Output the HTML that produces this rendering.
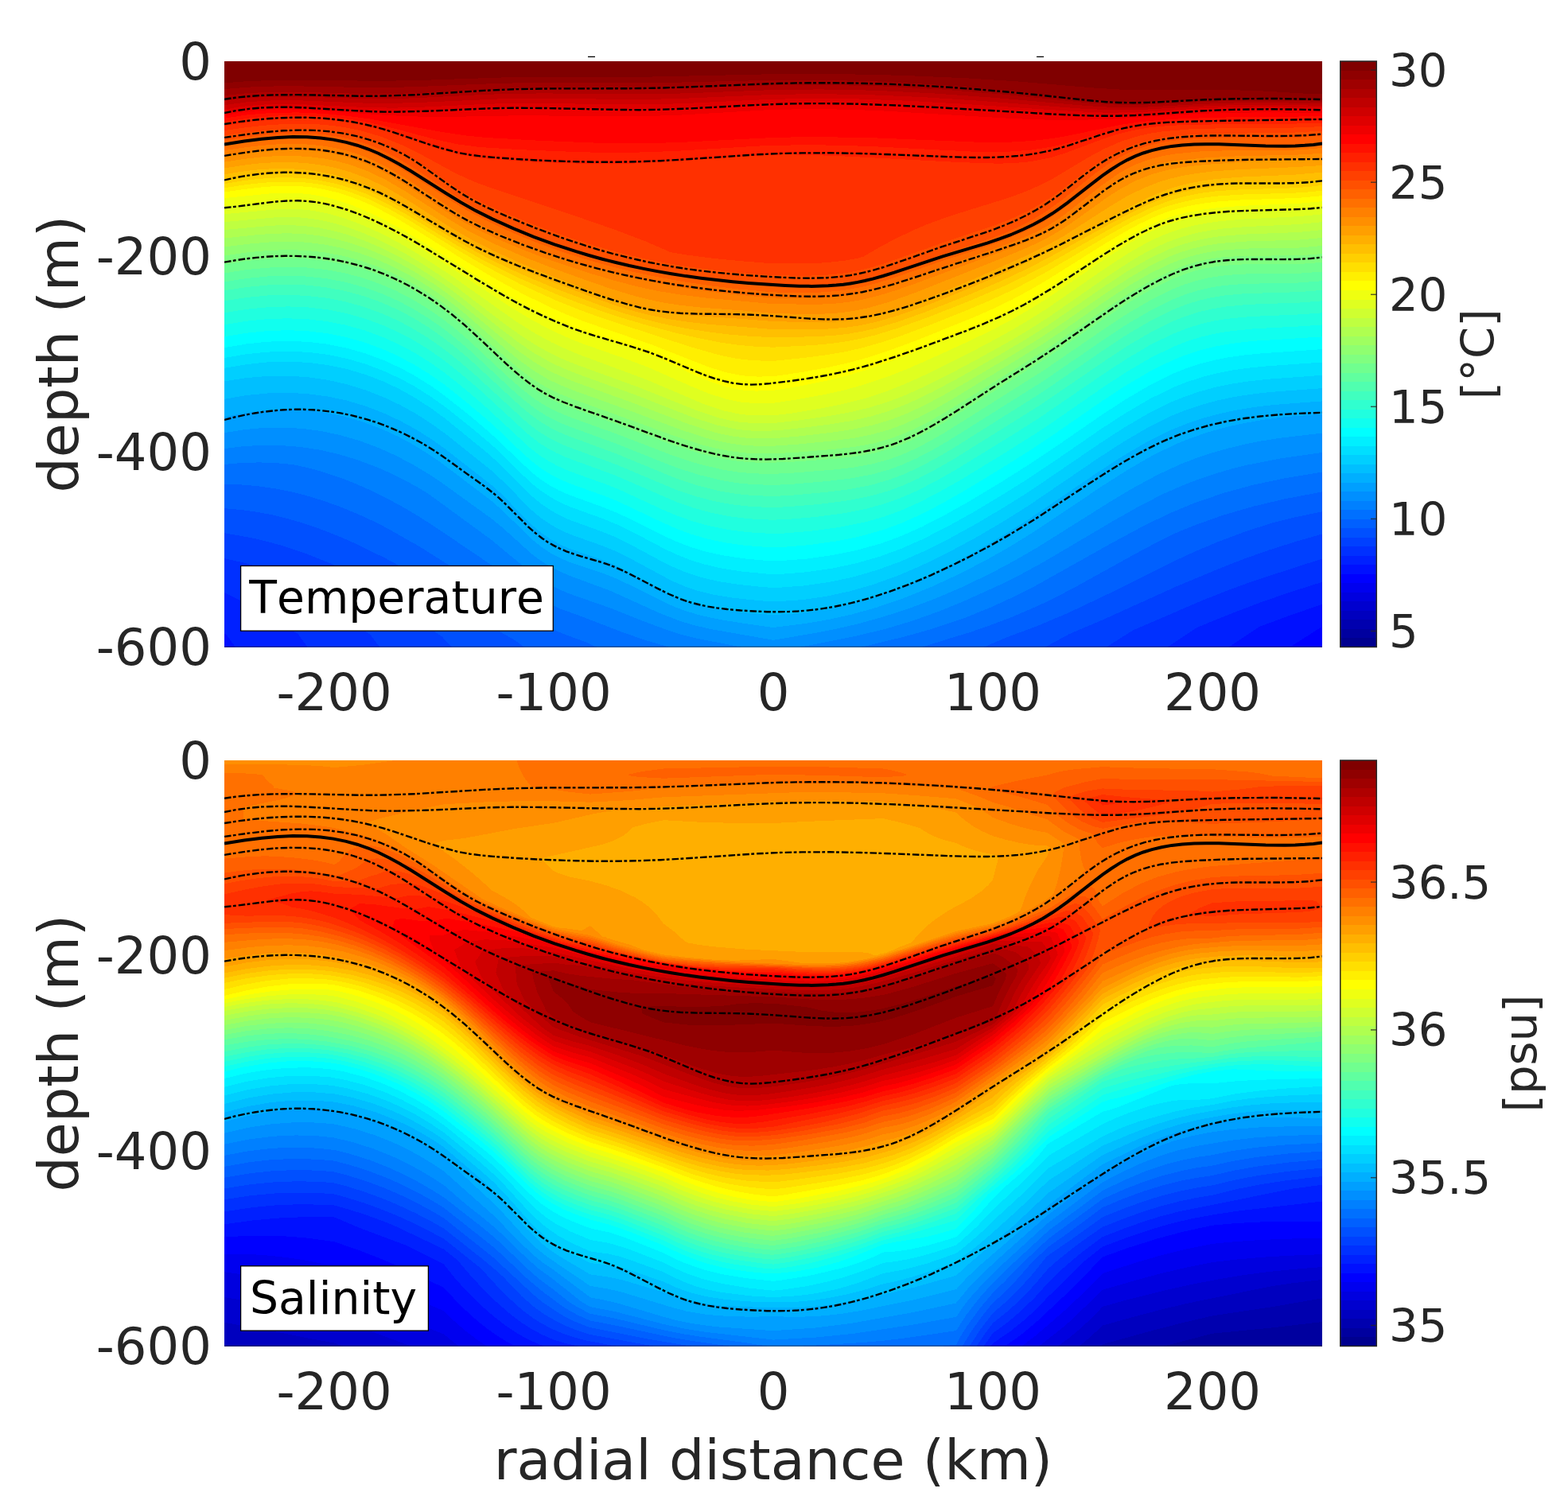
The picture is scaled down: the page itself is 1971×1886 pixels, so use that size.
<!DOCTYPE html><html><head><meta charset="utf-8"><title>Temperature and Salinity sections</title><style>html,body{margin:0;padding:0;background:#fff;overflow:hidden}svg{display:block}</style></head><body><svg xmlns="http://www.w3.org/2000/svg" xmlns:xlink="http://www.w3.org/1999/xlink" width="1971" height="1886" viewBox="0 0 1971 1886">
<style>.cd{fill:none;stroke:#000;stroke-width:2.4;stroke-dasharray:8.6 2.4 3.8 3}.cs{fill:none;stroke:#000;stroke-width:4}text{font-family:"DejaVu Sans","Liberation Sans",sans-serif;fill:#262626;font-kerning:none}.tk{font-size:64px}.lb{font-size:70px}.cb{font-size:57.6px}.bx{font-size:56.8px;fill:#000}</style>
<rect width="1971" height="1886" fill="#fff"/>
<g shape-rendering="crispEdges">
<rect x="282" y="77" width="1380" height="736.5" fill="#00008f"/>
<rect x="282" y="77" width="1380" height="736.5" fill="#00009f"/>
<rect x="282" y="77" width="1380" height="736.5" fill="#0000af"/>
<rect x="282" y="77" width="1380" height="736.5" fill="#0000bf"/>
<rect x="282" y="77" width="1380" height="736.5" fill="#0000cf"/>
<rect x="282" y="77" width="1380" height="736.5" fill="#0000df"/>
<rect x="282" y="77" width="1380" height="736.5" fill="#0000ef"/>
<rect x="282" y="77" width="1380" height="736.5" fill="#0000ff"/>
<path fill="#0010ff" d="M1662 77 1662 787.7 1621.7 813.5 282 813.5 282 77Z"/>
<path fill="#0020ff" d="M1662 77 1662 759.8 1622 773.5 1583.1 788 1544.8 813.5 295.7 813.5 285 798.5 282 796.5 282 77Z"/>
<path fill="#0030ff" d="M1662 77 1662 731.8 1622 744.4 1584 757.6 1546 772.1 1504 789.2 1467.9 813.5 386.5 813.5 374.5 797 350 781.8 326 767.8 304 755.9 282 745.1 282 77Z"/>
<path fill="#0040ff" d="M1662 77 1662 702.5 1576 730.4 1544 742 1511.2 755 1424.1 792.5 1391 813.5 477.3 813.5 465.8 798.5 463.9 797 406 758.8 362 732.1 326.2 713 304.1 707 282 702.1 282 77Z"/>
<path fill="#0050ff" d="M1662 77 1662 671.4 1628 681.2 1596 691.3 1564 702.6 1533.6 714.5 1478 737.7 1386.9 779 1344.4 797 1314.1 813.5 568 813.5 555.1 800 527.8 782 458 733.8 426.6 713 388 697.3 352 685.3 334 680.4 316 676.2 282 670.2 282 77Z"/>
<path fill="#0060ff" d="M1662 77 1662 643.2 1626 650.8 1598.9 657.5 1564 668.9 1530 681.7 1504 692.6 1476 705.4 1404.1 741.5 1344.1 770 1304 787.1 1264.8 801.5 1237.3 813.5 658.8 813.5 646.5 804.5 618 788.4 586.6 768.5 566 754 526.8 725 486 702.7 450 684.9 428 675.2 406 666.4 384 658.7 362 652.2 344 647.7 322 643.6 302 640.9 282 639.2 282 77Z"/>
<path fill="#0070ff" d="M1662 77 1662 618.4 1614.1 627.5 1574 637.1 1536 648.2 1500 661.1 1475.9 671 1458 679.9 1430 694.8 1348.2 740 1320 754.6 1302 763 1272 775.8 1242 787.2 1218 795.4 1187.6 804.5 1160.4 813.5 749.6 813.5 736.9 807.5 714 799.2 698 792.7 674 781 654 768.5 627 749 584 723 528 687.6 486 663.8 470 655.6 450 646.4 428 637.4 408 630.2 386 623.4 366 618.3 344 614 324 611.2 304 609.5 282 608.8 282 77Z"/>
<path fill="#0080ff" d="M1662 77 1662 593.5 1616 601.1 1576 609.5 1538 619.9 1502 632.2 1470 645.5 1438 661 1398 682.5 1302 736.3 1274 750.5 1244.6 764 1211.2 777.5 1172 790.6 1138 800.2 1083.5 813.5 840.4 813.5 808 803.9 782 794.7 729.4 774.5 704.5 765.5 692 760.1 679.1 753.5 660 741.5 614 707.9 550 664.6 530 651.6 508 638.4 488 627.4 468 617.4 448 608.5 428 600.7 408 594 388 588.4 367.7 584 346 582.1 326 581.4 304 582 282 583.9 282 77Z"/>
<path fill="#008fff" d="M1662 77 1662 569 1610 576.3 1568 584.6 1548 589.6 1528 595.4 1508 602.1 1490 608.9 1461.2 621.5 1432 636.5 1400 654.6 1311.2 707 1283.6 722 1256.7 735.5 1210.2 756.5 1180.8 768.5 1147.2 780.5 1112.2 791 1072 800.6 1006.6 813.5 931.2 813.5 874 802.3 856 797.7 838 791.9 812 782.3 766 764.1 716 746.6 702 740.7 688 733.6 678 727.5 668 720.5 618 679 538 620.5 524 612.1 506 602.3 488 593.6 472 586.7 448.6 578 426 571.2 402 565.7 378 562 354 560.1 330 559.8 306 561.1 282 564.1 282 77Z"/>
<path fill="#009fff" d="M1662 77 1662 544.5 1608 550.9 1586 554.4 1564 558.8 1542 564.1 1522 569.8 1502 576.6 1484 583.6 1456 596.5 1424 613.8 1392 633 1304 688.3 1276 704.5 1248 719.5 1212 737 1177.2 752 1142 765.3 1108 776.2 1078 784.5 1050 791 1022 796.4 972 804.8 894 791.1 872 786 854 780.6 827 770 768 743.1 714 723.1 700 716.7 690 711.4 678.3 704 668 696.2 632 663.7 618 652.2 554 606 536 594.2 516 582.4 496 572.1 476 563.1 452 554.2 428 547.2 404 542.1 380 538.9 356 537.5 332 537.9 308 540.1 282 544.2 282 77Z"/>
<path fill="#00afff" d="M1662 77 1662 520.7 1616 524.1 1586 528.1 1560 532.8 1538 537.9 1518 543.6 1498 550.4 1478 558.5 1450 572 1418 590.4 1386 610.8 1298 669.7 1269.1 687.5 1240 704 1205.2 722 1169.4 738.5 1136 752 1102 763.7 1072 772.2 1042 778.9 1012 784 972 789 934 783.7 904 778.8 882 774.1 864 768.9 850 763.8 836 757.7 790 734.7 772 726.3 758 720.9 716 706.8 704 701.6 692 695.3 680 687.3 669.1 678.5 632 642.3 618 629.9 556 582.9 538 570.5 518 558.3 500 548.7 480 539.5 456 530.5 432 523.5 408 518.7 384 515.8 360 514.9 334 516.1 306 519.6 282 524.2 282 77Z"/>
<path fill="#00bfff" d="M1662 77 1662 504.4 1600 509.1 1576 512 1554 515.6 1532 520.4 1512 525.9 1492 532.6 1472 540.6 1442 555.5 1410 574.2 1378 595.1 1292 653.6 1262 672.5 1232 690.1 1197.7 708.5 1162 725.8 1132 738.6 1098 751 1066 760.3 1036 766.7 1006 770.9 972 773.2 940 770.6 910 767 888 763.1 870 758.4 856.2 753.5 842 747.1 792 719.9 774 710.9 758 704.3 716 689.9 704 684.5 692 677.9 680 669.6 670 661.2 660 651.5 632 622.7 618 609.9 560 564.8 542 552 524 540.6 504 529.6 484 520.1 460 510.8 436 503.6 412 498.5 386 495.1 362 493.8 336 494.5 310 497 282 501.8 282 77Z"/>
<path fill="#00cfff" d="M1662 77 1662 488.1 1596 493 1572 495.8 1550 499.3 1530 503.6 1510 509 1490 515.8 1472 523.1 1444 536.9 1412 555.6 1380 576.4 1292 636.3 1260 656.4 1228 675.2 1192 694.6 1158 711.2 1128 724 1098 734.8 1068 743.4 1038 750 1008 754.2 978 756.2 972 756.4 954 755.2 922 751.8 898 747.9 876 742.5 860 737 844 730 790 701 772 692.2 758 686.5 716 671.6 704 666.2 692 659.5 680 651.3 668 641.2 632 604.8 616 590.1 560 545.5 542 532.5 524 520.9 504 509.7 484 500.1 460 490.6 436 483.2 412 477.8 388 474.3 362 472.6 336 472.9 310 475.1 282 479.4 282 77Z"/>
<path fill="#00dfff" d="M1662 77 1662 471.8 1592 476.9 1568 479.6 1548 482.7 1528 486.8 1508 492.3 1490 498.4 1472 505.7 1444 519.5 1412 538.3 1382 557.8 1294 617.8 1261.9 638 1226 659.2 1192 677.9 1160 693.8 1130 706.8 1102 716.9 1072 725.6 1042 732 1010 736.5 980 738.7 972 738.9 960 738.2 928 734.9 902 730.8 880 725.6 862 719.6 846 712.8 828 703.8 790 683.4 772 674.7 758 668.9 716 653.7 704 648.2 692 641.5 680 633.3 668 623.3 630 585.3 614 570.6 560 526.6 542 513.4 522 500.4 502.7 489.5 484.2 480.5 460 471.2 436 464 412 459 388 455.9 362 454.7 336 455.4 310 458.1 282 462.9 282 77Z"/>
<path fill="#00efff" d="M1662 77 1662 455.5 1588 460.7 1566 463.1 1548 465.7 1528 469.7 1510 474.4 1492 480.3 1474 487.5 1446 501.2 1414 519.9 1384 539.4 1322 582.1 1294 600.8 1260 622.2 1222 644.9 1188 663.7 1158.6 678.5 1132 690.2 1106 699.7 1076 708.3 1046 714.7 1014 719.3 982 721.8 972 722.1 964 721.6 932 718.5 906 714.4 884 709.2 868 704.2 852 697.9 836 690.4 793.3 668 776 659.6 758 652.2 716 637 704 631.6 692 625.1 680 617.1 670 609.2 658 598.1 628 568.4 616 557.5 596 540.7 560 511.9 542 499 522 486.3 504 476.5 484 467.1 460 457.9 436 450.9 412 445.9 388 442.9 362 441.7 336 442.6 310 445.2 282 450.1 282 77Z"/>
<path fill="#00ffff" d="M1662 77 1662 439.1 1584 444.5 1564 446.5 1546 449 1526 452.9 1508 457.6 1492 462.9 1474 470.1 1446 483.9 1414 502.7 1384 522.4 1324 563.8 1296 582.5 1258 606.5 1216 631.7 1186 648.5 1158 662.8 1132 674.3 1108 683.1 1078 691.6 1048 697.8 1014 702.6 982 705 972 705.4 964 705 934 702.2 908 698.2 886 693.3 868 687.8 850 680.9 832 672.6 794 653.5 776 645 758 637.7 716 622.5 702 616.3 690 609.7 678 601.6 668 593.6 616 544.2 594 525.5 560 498.3 542 485.4 522 472.8 504 463 484 453.7 460 444.6 436 437.7 412 432.8 388 429.9 362 428.8 336 429.7 310 432.4 282 437.2 282 77Z"/>
<path fill="#10ffef" d="M1662 77 1662 423.4 1580 428.5 1562 430.2 1544 432.6 1526 435.9 1508 440.5 1492 445.7 1474 452.8 1446 466.6 1416 484.2 1386 503.8 1326 545.3 1296 565.3 1258 589.3 1210 618.4 1182 634.2 1156 647.5 1132 658.2 1110 666.2 1082 674.2 1052 680.3 1018 685.1 984 687.9 966 688.1 936 685.8 910 682 888 677.3 868 671.4 850 664.6 832 656.6 776 630 760 623.6 716 607.9 702 601.7 690 595.2 678 587.4 668 579.5 656 568.8 628 541.8 612 527.3 584 503.7 558 483.1 538 469.1 518 456.9 498 446.5 482 439.3 458 430.4 434 423.7 410 419 386 416.2 362 415.2 336 416.1 310 418.7 282 423.4 282 77Z"/>
<path fill="#20ffdf" d="M1662 77 1662 408.4 1638 410.2 1576 413.3 1542 416.9 1524 420.2 1508 424.1 1492 429.2 1474 436.4 1446 450.1 1416 467.7 1388 486 1328 527.5 1300 546.2 1260 571.4 1206 604.3 1178 620.1 1154 632.4 1132 642.1 1112 649.4 1086 656.8 1056 662.8 1020 667.7 986 670.5 970 671 940 669.2 916 666.2 892 661.4 870 655.2 850 648 832 640.3 778 615.4 760 608.3 716 592.5 702 586.4 690 580 678 572.3 666 563 608 509.2 580 485.4 558 468 540 455.3 520 442.9 502 433.3 482 424.2 458 415.3 434 408.6 410 404 386 401.2 362 400.3 336 401.1 310 403.7 282 408.4 282 77Z"/>
<path fill="#30ffcf" d="M1662 77 1662 393.3 1636 395.3 1572 398 1542 400.9 1524 403.9 1508 407.8 1492 412.8 1474 419.9 1446 433.6 1416 451.3 1388 469.6 1304 527 1268 549.8 1202 590.3 1176 605.1 1154 616.4 1134 625.3 1114 632.7 1088 640 1060 645.4 1024 650.1 988 653.1 970 653.7 942 652.3 918 649.4 896 645.2 872 638.7 850 631 774 598 712 575.2 700 569.8 690 564.5 678 557 664 546.1 604 490.9 578 468.7 558 452.9 539.7 440 520 427.8 502 418.3 482 409.2 460 401 436 394.2 412 389.4 388 386.5 362 385.4 336 386.3 310 388.8 282 393.3 282 77Z"/>
<path fill="#40ffbf" d="M1662 77 1662 378.3 1634 380.5 1570 382.8 1540 385.6 1522 388.7 1506 392.6 1490 397.7 1474 404.1 1448 416.9 1418 434.4 1390 452.8 1306 510.3 1198 577.7 1174 591.4 1154 601.8 1134 610.8 1116 617.5 1092 624.2 1064 629.6 1030 633.9 990 637.3 970 638 944 637 920 634.3 898 630.2 874 624 848 615 774 583.8 712 561.1 700 555.7 690 550.5 676 541.7 662 530.8 596 470.2 574 451.5 556 437.4 538 424.8 518 412.6 500 403 480 394.1 458 386 434 379.3 410 374.6 386 371.9 362 370.8 336 371.5 310 374 282 378.3 282 77Z"/>
<path fill="#50ffaf" d="M1662 77 1662 364.9 1632 367.2 1566 369.1 1538 371.6 1522 374.3 1506 378.1 1490 383.2 1474 389.5 1448 402.3 1418 419.9 1390 438.3 1308 494.5 1196 564.9 1174 577.6 1154 588.1 1136 596.4 1118 603.2 1094 610.1 1068 615.1 1038 618.9 994 622.9 972 623.9 948 623.2 926 621 904 617.3 878 610.8 850 601.5 774 570.2 714 548 702 542.9 690 536.8 676 528.1 660 515.7 647.3 504.5 592 453.2 574 437.8 556 423.7 538 411.1 518 398.9 500 389.4 480 380.5 458 372.5 434 365.9 410 361.3 386 358.6 362 357.7 336 358.5 310 361 282 365.3 282 77Z"/>
<path fill="#60ff9f" d="M1662 77 1662 353.2 1632 355.5 1564 356.9 1538 359 1522 361.5 1506 365.2 1490 370.2 1474 376.6 1448 389.3 1418 406.9 1390 425.3 1310 480.1 1192 554.3 1170 567 1152 576.3 1134 584.4 1118 590.4 1096 596.5 1070 601.4 1040 605 994 608.9 972 609.9 948 609.2 926 607.2 906 603.8 878 596.9 848 587.1 774 557.6 714 535.7 702 530.6 690 524.7 674 514.8 658 502.4 642 488.3 590 440 572 424.7 556 412.2 538 399.7 518 387.5 500 378.1 480 369.2 458 361.3 434 354.7 410 350.2 386 347.6 362 346.7 336 347.5 310 350 282 354.4 282 77Z"/>
<path fill="#70ff8f" d="M1662 77 1662 341.5 1634 343.7 1568 344.4 1552 345.2 1536 346.7 1520 349.1 1504 352.9 1490 357.3 1474 363.6 1448 376.3 1418 393.9 1392 410.9 1312 465.7 1188.3 543.5 1168 555.2 1150 564.4 1134 571.6 1118 577.5 1096 583.5 1072 587.8 1044 590.9 994 594.8 972 595.8 948 595.4 928 593.7 908 590.5 878 583.3 846 572.9 774 545.2 716 524.3 700 517.6 688 511.6 672 501.6 656 489.2 638 473.3 588 426.8 572 413.2 556 400.7 538 388.2 518 376.1 498 365.7 478 357.1 456 349.4 434 343.5 410 339.1 386 336.5 362 335.7 336 336.6 310 339.1 282 343.4 282 77Z"/>
<path fill="#80ff80" d="M1662 77 1662 329.8 1634 332 1566 332.2 1536 334 1520 336.4 1504 340 1490 344.4 1474 350.7 1448 363.3 1418 380.9 1392 397.9 1314 451.3 1186.7 531.5 1168 542.3 1150 551.6 1134 558.8 1120 564 1098 570 1074 574.2 1048 576.9 998 580.6 972 581.7 950 581.6 930 580.1 910 577.2 880 570.2 844 558.8 774.3 533 716 512.2 700 505.6 688 499.6 672 489.8 654 476.1 636 460.3 586 413.6 572 401.7 556 389.3 538 376.8 518 364.7 498 354.4 478 345.8 456 338.2 434 332.4 410 328 386 325.5 362 324.7 336 325.6 310 328.1 282 332.5 282 77Z"/>
<path fill="#8fff70" d="M1662 77 1662 319 1634 321.3 1564 321.7 1534 323.6 1518 326.1 1502 329.8 1488 334.2 1472 340.5 1446 353.2 1418 369.7 1392 386.7 1312 441.3 1190 517.3 1170 528.8 1152 538.1 1136 545.3 1120 551.3 1098 557.5 1074 561.8 1048 564.8 1000 568.8 972 570.3 952 570.4 932 569.1 914 566.6 900 563.7 884 559.7 850 548.9 718 501 702 494.5 688 487.7 670 476.8 652 463.1 634 447.7 584.1 402.5 568 389.3 552 377.3 534 365.2 514 353.5 494 343.3 474 334.8 452 327.3 430 321.5 408 317.4 384 314.8 362 314.1 338 314.9 312 317.2 282 321.5 282 77Z"/>
<path fill="#9fff60" d="M1662 77 1662 309 1632 311.6 1564 312.6 1534 314.8 1518 317.2 1502 320.8 1486 325.7 1470 332 1446 343.6 1420 358.7 1392 376.9 1336 415.7 1310 433 1200 500.1 1176 513.9 1154 525.3 1136 533.4 1118 540.2 1096 546.3 1072 551 1046 554.4 1002 558.7 974 560.6 956 560.9 936 560 918 557.6 904 554.8 890 551.3 858 541.1 786 514.2 721.3 491 704 484 690 477.4 672 466.8 652 452.3 634 437.5 583.5 393.5 566.5 380 550 368 530 354.9 510 343.3 490 333.3 470 324.7 450 317.6 428 311.5 406 307.2 384 304.6 362 303.7 340 304.3 314 306.5 282 310.5 282 77Z"/>
<path fill="#afff50" d="M1662 77 1662 299 1632 301.7 1564 303.6 1532 306.2 1516 308.7 1500 312.3 1484 317.2 1469 323 1446 334 1420 349 1394 365.9 1334 407.4 1308 424.7 1278 443.2 1218 478.7 1186 496.9 1160 510.6 1138 520.7 1118 528.3 1096 534.7 1072 539.8 1046 543.7 1006 548.3 976 550.9 960 551.4 940 550.8 922 548.7 910 546.4 896 542.9 866 533.4 794 506 722 480 704 472.6 690 466 672 455.6 652 441.5 632 425.6 580.9 383 563.2 369.5 546 357.4 524 343.4 504 332.1 484 322.2 464 313.7 442 306 422 300.5 402 296.5 382 294.1 362 293.3 342 293.8 320 295.5 282 299.5 282 77Z"/>
<path fill="#bfff40" d="M1662 77 1662 289 1632 292 1562 294.7 1532 297.3 1516 299.8 1499.4 303.5 1484 308.1 1468 314 1444 325.4 1417.2 341 1390 358.8 1316 409.9 1290 426.3 1260 444.1 1208 473.6 1172 492.8 1142 507.1 1116 517.2 1094 523.7 1070 529.1 1044 533.4 1008 538 980 541 964 541.8 944 541.5 926 539.8 902 534.7 873 525.5 800 497 724 469.5 706 462.1 692 455.5 672 444.3 652 430.7 632 415.5 578.1 372.5 559.8 359 540 345.6 518 331.9 498 320.8 478 311 458 302.5 436 294.8 418 289.9 400 286.2 380 283.8 362 283.1 342 283.6 282 289 282 77Z"/>
<path fill="#cfff30" d="M1662 77 1662 279.1 1632 282.1 1566 285.1 1538 287.4 1522 289.5 1508 292.1 1494 295.5 1480 299.8 1466 305 1452 311.4 1438 318.7 1422 328 1392.9 347 1318 399 1294 414.3 1270 428.6 1230 450.9 1194 470.1 1164 485.1 1138 496.9 1116 505.3 1092 512.7 1068 518.4 1042 523.1 1004 528.5 972 532 948 532.2 928 530.5 916 528.3 904 525.4 878 517 806 488.1 724 458.3 708 451.7 692 444.2 672 433.1 652.8 420.5 634 407 573.3 360.5 554 346.8 534 333.6 512 320.3 492 309.3 472 299.5 452 291.1 432 284.1 414 279.1 396 275.6 378 273.5 362 273 344 273.5 282 279.1 282 77Z"/>
<path fill="#dfff20" d="M1662 77 1662 269.3 1632 272.2 1564 275.5 1534 278.1 1518 280.3 1502 283.3 1488 286.7 1474 291.1 1461.1 296 1448 302 1434 309.3 1418 318.7 1390 336.9 1318 386.7 1294 402 1272 415 1240 432.6 1202 452.2 1164 470.9 1136 483.5 1112 492.9 1088 500.7 1062 507.4 1034 513.2 996 519.5 972 522.4 948 522.5 931.6 521 910 516.5 884 507.8 813.1 477.5 730 446.6 712 439.2 694 430.8 672 418.8 650 405 568 347 526 319.6 506 307.8 486 297 466 287.4 448 279.9 430 273.5 412 268.5 394 265 378 263.2 362 262.8 346 263.4 282 269.2 282 77Z"/>
<path fill="#efff10" d="M1662 77 1662 260.6 1632 263.2 1562 266.4 1532 268.8 1500.6 273.5 1487.2 276.5 1471.8 281 1459.6 285.5 1446 291.5 1432 298.8 1418 306.9 1390 324.8 1316 375.4 1294 389.2 1272 401.8 1248 414.5 1218 429 1172 450.1 1140 464.1 1114 474.3 1088 483 1062 490.3 1034 496.5 1002 502.3 972 506.8 950 507.1 932 505.7 912 501.6 890 494.4 870.6 486.5 814 461.5 792 453.2 732 432 712 423.9 694 415.6 670 403 644 387.5 552.9 327.5 514 303.4 494 292.1 476 282.7 458 274.4 442 267.8 424 261.7 408 257.5 392 254.5 376 252.8 362 252.6 346 253.3 282 259.3 282 77Z"/>
<path fill="#ffff00" d="M1662 77 1662 253.2 1630 256 1562 258.8 1532 261 1514 263.2 1498 266 1484 269.2 1470 273.3 1458 277.6 1444 283.7 1430 290.8 1415.4 299 1386.5 317 1316 363.6 1294 377 1274 388.2 1254 398.3 1230 409.3 1152 441.7 1118 455 1090 464.8 1064 472.5 1036 479.4 1006 485.4 972 490.9 950 491.6 932 490.4 914 486.8 894 480.3 874 472.1 834 453.6 816 445.9 790 436.3 732 416.6 712 408.6 692 399.6 662 384.4 630 366.2 598 346.6 532 304.6 500 285.5 470 269.8 442 257.8 424 251.7 408 247.6 390 244.3 374 242.8 358 242.5 340 243.3 282 249.1 282 77Z"/>
<path fill="#ffef00" d="M1662 77 1662 246.2 1630 249 1562 251.3 1532 253.3 1516 255.2 1500 257.8 1486 260.9 1473.2 264.5 1460.1 269 1446 274.9 1430.4 282.5 1416.6 290 1388.8 306.5 1316 352.2 1294 365 1272 376.8 1250 387.5 1224 399 1150 428.8 1120 439.9 1092 449.2 1066 456.3 1040 462.1 1010 467.6 972 473.3 952 473.6 934 472.4 914 468.6 890 461.2 818 432.9 734 404.2 714 396.3 694 387.5 656 368.9 618 348 584 327.5 520 287.2 494 271.9 466 257.6 452 251.6 438.4 246.5 424 242 404 237.4 390 235.2 370 233.7 352 233.8 334 234.9 312 237.3 282 241.4 282 77Z"/>
<path fill="#ffdf00" d="M1662 77 1662 239.5 1646 241.4 1628 242.6 1560 244.6 1532 246.4 1516 248.2 1502 250.5 1476 256.7 1462 261.3 1450 266.1 1422 279.6 1392.8 296 1318 340.5 1294 353.7 1270 365.9 1244 377.9 1214 390.7 1166 409.8 1136 421 1110 429.9 1086 436.8 1064 441.9 1040 446.1 1012 449.8 972 453.9 952 453.4 934 452 920 449.8 904 446.4 868 436.2 754 399 724 387.9 698 377.3 654 357.3 612 335.6 578 316 514 276.7 489.7 263 464 250.6 440 241.4 422 236.1 404 232.1 388 229.8 370 228.5 350 228.5 330 229.8 308 232.3 282 236.3 282 77Z"/>
<path fill="#ffcf00" d="M1662 77 1662 232.9 1646 234.9 1628 236.3 1558 238.4 1528 240.4 1512 242.5 1496 245.4 1482 248.8 1468 253.1 1446 261.6 1422 273.2 1393.9 288.5 1316 332.8 1288 347.3 1262 359.8 1218 378.7 1166 399.1 1128 412.8 1100 421.4 1082 425.8 1064 429.2 1044 432 1022 434 972 436.7 948 435.6 928 433.8 904 430.3 878 425.2 850 418.7 814 409.2 782 399.7 758 391.9 730 381.9 700 370.3 652 349.5 608 327.5 576 309.5 510 269.1 484 254.8 460 243.6 436 235 420 230.5 402 226.8 384 224.4 366 223.3 346 223.5 326 224.8 304 227.5 282 231.2 282 77Z"/>
<path fill="#ffbf00" d="M1662 77 1662 225.2 1644 227.6 1624 229.4 1556 232.1 1528 234.2 1500 238.5 1486 241.8 1470 246.5 1448 254.9 1424.5 266 1396.1 281 1316 325.2 1286 340.4 1258 353.5 1216 371.5 1164 392 1130 404.2 1102 412.5 1084 416.7 1066 419.8 1048 421.8 1026 423.2 972 424.3 940 422.6 914 420.3 888 417 860 412.5 834 407.2 810 401.3 786 394.4 760.2 386 700 363.5 656 345 616 326.1 578 305.5 516 267.5 490 252.7 476 245.5 462 239.3 436 229.9 418 225 400 221.5 382 219.3 362 218.2 342 218.4 322 219.9 301.7 222.5 282 226.1 282 77Z"/>
<path fill="#ffaf00" d="M1662 77 1662 216.6 1628 219.6 1558 222.7 1530 224.9 1514 227 1498 229.9 1484 233.2 1470 237.5 1452 244.4 1432 253.8 1414 263.5 1362.1 293 1330 310.3 1296 327.6 1261.4 344 1216.3 363.5 1164 384.3 1130 396.4 1102 404.6 1082 409 1064 411.7 1044 413.4 1022 414.2 972 414.1 890 407.7 864 404.7 840 401 818 396.6 798 391.5 776 384.8 752 376.5 680 348.8 640 331.8 604 314.6 574 298.1 518 263.5 488 246.1 462 233.6 438 224.8 420 219.7 402 216 384 213.5 364 212.1 344 212.1 324 213.4 304 215.7 282 219.4 282 77Z"/>
<path fill="#ff9f00" d="M1662 77 1662 208 1628 210.1 1556 213.2 1524 215.5 1504 218 1488 220.7 1472 224.3 1458 228.5 1438 236.3 1416 247.2 1396 259.1 1336 297.5 1316 308.6 1290 321.5 1232 347.4 1160 377.7 1129.4 389 1114 393.7 1097.5 398 1080 401.5 1062 403.8 1044 405 1022 405.3 972 404.1 936 401.2 860 396.1 840 393.8 824 391.2 807 387.5 790 382.8 766 374.7 736 363.5 688 344.8 656 331.6 620 315.3 588 298.7 564 284.5 508 248.8 484 235 462 224.5 440 216.3 422 211.2 404 207.6 386 205.2 368 204.1 348 204 328 205.2 306 207.7 282 211.5 282 77Z"/>
<path fill="#ff8f00" d="M1662 77 1662 199.6 1570 203.3 1516 206.9 1494 209.2 1478 211.6 1462 215.1 1448 219.1 1428 227 1408 237.6 1390 249.4 1352.4 276.5 1337.1 287 1322 296.2 1304 305.5 1286 313.6 1254 326.9 1150 368.2 1118 379.6 1090 387.5 1074 390.8 1056 393.3 1036 394.6 1014 394.9 972 394.1 938 390.8 880 386.5 856 383.9 834 380.5 814 376.3 794 371.1 768 363.1 736 352.1 694 336.9 662 324.4 620 306.1 588 289.9 562 274.4 509.6 240.5 483.8 225.5 461.7 215 440 207.1 424 202.8 406 199.2 388 197 368 195.9 348 196.1 328 197.5 306 200 282 203.7 282 77Z"/>
<path fill="#ff8000" d="M1662 77 1662 192.8 1632 194.5 1552 196.5 1512 198.6 1476 202.2 1462 204.6 1450 207.5 1438 211.3 1428 215.2 1416 220.9 1406 226.7 1386.3 240.5 1338.3 278 1324 287.5 1308.3 296 1292 303.4 1266 313.8 1150 356.7 1126 365.1 1104 371.8 1084 376.8 1066 379.9 1048 381.8 1028 382.8 972 382.2 884 374.2 854 370.4 828 366.1 802 360.5 772 352.7 740 343.2 706 332 678 322 652 311.8 626 300.8 604 290.5 586 281.1 570 271.7 510 232.6 486 218.3 472 211.1 460 205.8 446 200.6 432 196.4 416 192.7 400 190.2 384 188.7 366 188.1 348 188.4 328 189.8 308 192.1 282 195.8 282 77Z"/>
<path fill="#ff7000" d="M1662 77 1662 185.9 1642 187.8 1620 188.8 1542 189.3 1508 190.5 1478 193.3 1464 195.6 1452 198.4 1440 202.1 1428 206.7 1416 212.5 1406 218.3 1386 232.3 1338 270 1326.5 278 1316.8 284 1305.8 290 1293.1 296 1258 309.9 1128 355.3 1104 362.8 1086 367.5 1060 372.2 1034 374.7 1004 375.3 968 374.3 928 370.7 892 366.6 860 362 828 356.2 792 348.4 760 340.3 728 331 696 320.6 672 311.9 648 302.4 622.7 291.5 602 281.6 586 273.1 572 264.8 512 225.5 488 211 474 203.8 462 198.4 448 193.2 436 189.6 420 185.8 404 183.2 386 181.5 368 180.9 350 181.3 330 182.8 308 185.3 282 189.1 282 77Z"/>
<path fill="#ff6000" d="M1662 77 1662 178.5 1640 181 1614 182.3 1590 182.4 1534 181.5 1502 182.2 1484 183.7 1472 185.4 1450 190.3 1440 193.4 1428 198.1 1416 204 1404 211 1384 225.2 1336 263 1324 271.4 1313.5 278 1290 290.4 1260 302.9 1238 310.6 1182 328.9 1122 350 1102 356.1 1084 360.7 1060 365.1 1036 367.4 1008 368.2 972 367.4 928.5 363.5 898 359.9 862 354.7 828 348.6 796 341.9 764 334 732 324.9 702 315.1 678 306.4 654 296.8 631.6 287 609.5 276.5 592 267.3 576 258.1 514 218 490 203.8 476 196.6 464 191.3 452 186.8 438 182.6 422 178.8 406 176.3 388 174.6 370 174 350 174.6 330 176.1 308 178.7 282 182.6 282 77Z"/>
<path fill="#ff5000" d="M1662 77 1662 170.3 1638 172.4 1616 173.3 1534 173.3 1502 174.2 1472 177.1 1458 179.5 1446 182.4 1434 186.1 1424 189.9 1412 195.4 1402 200.9 1391.5 207.5 1378.7 216.5 1333.7 252.5 1312 267.8 1298 276.2 1282 284.5 1266.6 291.5 1248 298.9 1180 321.6 1118 343.5 1098 349.7 1080 354.1 1060 357.7 1034 360 1006 360.6 972 359.6 934 356.3 898 352.3 864 347.5 830 341.6 798 335 767.7 327.5 738 319 708 309.2 682 299.7 658 290 637.5 281 612 268.9 592 258.3 574.9 248 524 213.7 499 198.5 484.5 191 472 185.4 458 180.2 444 176 428 172.3 410 169.5 392 167.9 374 167.5 354 168 334 169.5 310 172.3 282 176.3 282 77Z"/>
<path fill="#ff4000" d="M1662 77 1662 164.6 1618 167.1 1532 167.8 1496 169.2 1476 170.9 1464 172.5 1442 177 1430.1 180.5 1418 184.8 1407.1 189.5 1395.2 195.5 1373.5 209 1328 243.3 1308 256.4 1294 264.3 1280 271.2 1264 278.1 1246 285 1181.4 306.5 1116 329.8 1098 335.4 1080 340 1058 343.9 1034 346.2 1006 346.8 972 346.1 934 343.3 902 340.1 866 335.5 838 330.9 808 324.8 778 317.5 748 309.1 718 299.5 690 289.7 662 278.9 632 266.5 608 255.8 592 247.6 578 239.3 529.7 206 507.2 192.5 492 184.9 477.9 179 464 174.1 448 169.7 434 166.7 412 163.5 392 162.1 376 161.8 340 163.4 312 166.2 282 170.1 282 77Z"/>
<path fill="#ff3000" d="M1662 77 1662 159.1 1624 160.6 1532 161.4 1494 162.5 1459.9 165.5 1446 167.7 1432 170.8 1410 177.5 1388 187.1 1369.6 197 1326 223.2 1312 230.6 1298 237.1 1282 243.6 1266 249.3 1196 271 1166 281.8 1146.9 290 1125 300.5 1105.3 311 1084.7 323 1082 323.3 1079.3 324.5 1062.9 327.5 1038 330.3 1010 331.5 972 331.4 932 328.3 898 325 862 320.4 842.6 317 811.6 303.5 772 288.5 728.7 273.5 622 238 598 229.3 574 218.6 526 192.5 504.6 182 478.2 171.5 454 164.4 436 160.6 418 157.9 398 156.2 378 155.6 356 156.1 334 157.6 310 160.1 282 164 282 77Z"/>
<path fill="#ff2000" d="M1662 77 1662 154.8 1622 155.7 1498 156.7 1470 157.9 1446 160.2 1423.6 164 1402 169.6 1382.9 176 1340 192.2 1320 198.3 1296 203.1 1272 205.4 1252 205.6 1204 204 1052 196 990 194.2 952 195.5 854 202.7 796 205.6 764 206.1 732 205.8 666 203.4 612 199.5 594 197.3 580 194.8 566 191.3 550 186.6 502 170 478 162.4 454 156.5 427.1 152 413.1 150.5 390 149.2 362 149.3 324 152.1 282 157.9 282 77Z"/>
<path fill="#ff1000" d="M1662 77 1662 150.5 1498 152.2 1470 153.2 1448 154.8 1426 157.7 1406 161.7 1388 166.4 1344 179.3 1322 184.6 1296 188.6 1266 190.8 1246 191.1 1222 190.6 1090 183.8 1018 182 960 183.2 848 190 798 191.7 766 191.9 730 191.3 652 188.1 604 185.1 576 181.5 548 175.5 493.5 161 468.3 155 442 150.2 416 147.1 384 145.2 350 145.5 316 148.1 282 152.9 282 77Z"/>
<path fill="#ff0000" d="M1662 77 1662 146.2 1532 147.6 1484 149.3 1450 151.5 1434 153.1 1408 157 1346 170 1324 173.9 1298 177 1270 178.6 1224 178.5 1100 173.4 1032 172.1 998 172.4 964 173.4 856 178.9 812 180.3 754 179.8 680 176.9 611.3 173 584 170.3 552 165.4 466 149.7 436 145.7 406 142.9 374 141.4 342 141.9 312 144.2 282 148.8 282 77Z"/>
<path fill="#ef0000" d="M1662 77 1662 141.9 1588 141.3 1530 142.1 1490 143.7 1392 150 1344 151 1316 150.6 1274 149.1 1104 139.1 1064 137.7 1026 137.1 972 137.8 854 144.7 800 146.5 656 145.2 570 146.8 530 146.7 490 145.2 398 138.7 362 137.6 342 138 322 139.3 302 141.7 282 145.3 282 77Z"/>
<path fill="#df0000" d="M1662 77 1662 137.9 1606 136.9 1556 137.3 1520.1 138.5 1436 144.1 1408 145.2 1384 145.3 1334 143.5 1138 132.2 1086 130.3 1024 129.5 966 130.7 866 136.1 824 137.6 774 137.8 650 135.6 596 137 548 139.5 502 140.8 462 140.1 392 135.9 368 135 348 134.9 330 135.6 314 137 300 138.8 282 142.2 282 77Z"/>
<path fill="#cf0000" d="M1662 77 1662 135.3 1602 134.3 1552 134.7 1510 136.3 1432 141.2 1390 141.7 1346 139.8 1210 130.7 1144 126.9 1080 124.5 1024 123.8 966 124.9 868 129.7 828 131.2 784 131.5 686 129.9 644 129.9 608 130.9 528 134.8 496 135.6 464 135.3 384 131.4 348 130.9 330 131.6 314 132.8 298 134.8 282 137.7 282 77Z"/>
<path fill="#bf0000" d="M1662 77 1662 132.8 1602 131.8 1552 132.1 1510 133.6 1436 137.9 1396 138.3 1358 136.5 1232 126.8 1158 122 1090 119.1 1026 118.1 968 119 864 123.6 820 124.8 778 124.9 680 123.6 636 124 528 128.9 492 129.9 456 129.5 378 126.4 346 126.2 312 128.1 282 132.2 282 77Z"/>
<path fill="#af0000" d="M1662 77 1662 130.3 1604 129.2 1554 129.4 1512 130.8 1438 134.8 1400 135 1364 132.9 1250 122.9 1172 117.3 1098 113.7 1030 112.4 968 113.2 864 117.3 822 118.3 780 118.5 686 117.4 642 117.8 606 119 524 123.2 488 124.3 454 124 378 121.5 346 121.5 312 123.1 282 126.7 282 77Z"/>
<path fill="#9f0000" d="M1662 77 1662 127.8 1606 126.7 1556 126.8 1514 128 1442 131.6 1404 131.7 1370 129.6 1262 118.7 1184 112.5 1108 108.4 1034 106.8 968 107.4 824 111.9 686 111.2 640 111.8 526 117 488 118 452 117.9 376 115.7 344 115.7 312 117 282 120 282 77Z"/>
<path fill="#8f0000" d="M1662 77 1662 125.4 1606 124.2 1556 124.2 1512 125.3 1444 128.5 1406 128.4 1366 125.3 1276 114.9 1190 107.3 1110 102.7 1030 100.6 970 100.8 820 104.4 648 104.4 608 105.6 522 109.2 486 110 452 109.9 376 108.4 344 108.5 312 109.6 282 112.1 282 77Z"/>
<path fill="#800000" d="M1662 77 1662 118.3 1638 117.5 1588 114.5 1550 113.2 1512 112.8 1442 113.3 1410 112.7 1376 110.6 1280.3 102.5 1216 98.4 1134 94.8 1052 93 976 93.1 816 96.6 642 97.1 524 101.1 486 101.7 370 101.1 332 101.4 314 101.9 282 104.3 282 77Z"/>
</g>
<g shape-rendering="crispEdges">
<rect x="282" y="956" width="1380" height="736.5" fill="#00008f"/>
<path fill="#00009f" d="M1662 956 1662 1691.6 1648.6 1692.5 282 1692.5 282 956Z"/>
<path fill="#0000af" d="M1662 956 1662 1662 1598 1669.5 1524 1676.7 1463.5 1692.5 282 1692.5 282 956Z"/>
<path fill="#0000bf" d="M1662 956 1662 1632.3 1602 1642.7 1524 1654.4 1486 1663.3 1444 1674.2 1386 1690.3 1383.5 1692.5 282 1692.5 282 956Z"/>
<path fill="#0000cf" d="M1662 956 1662 1608.9 1624 1613.4 1596.9 1617.5 1493.6 1638.5 1461.9 1646 1424 1656 1386 1666.6 1371.1 1680.5 1356.8 1692.5 430.7 1692.5 420 1688.5 388 1682.8 334 1672 282 1662.8 282 956Z"/>
<path fill="#0000df" d="M1662 956 1662 1593 1626 1595.9 1594 1599.1 1564 1603 1536 1607.6 1498 1614.9 1464 1622.4 1417.7 1634 1386 1642.9 1372 1657.4 1358.5 1670 1344.2 1682 1330.1 1692.5 516.2 1692.5 420 1656.5 344 1641.2 282 1631 282 956Z"/>
<path fill="#0000ef" d="M1662 956 1662 1577.1 1620 1578.8 1586 1580.8 1554 1583.6 1524 1587.1 1492 1593.5 1462 1600.5 1430 1609 1386 1621.8 1345.4 1661 1333 1671.5 1306.1 1692.5 576.2 1692.5 558 1677.5 462 1640.1 420 1624.6 382 1616.1 346 1608.9 314 1603.6 282 1599.3 282 956Z"/>
<path fill="#0000ff" d="M1662 956 1662 1556.7 1620 1557.6 1584 1559 1552 1561.2 1524 1563.9 1492 1570.3 1460 1578.2 1426 1588.1 1386 1601.1 1361 1626.5 1335.3 1650.5 1302 1679.2 1284.7 1692.5 611.8 1692.5 598 1683.2 584 1672.4 571 1661 558 1648.3 482 1616 430 1596.1 420 1592.6 400 1587.9 380 1584 360 1581 340 1578.8 322 1577.5 282 1576.7 282 956Z"/>
<path fill="#0010ff" d="M1662 956 1662 1535.5 1614 1535.7 1580 1536.6 1550 1538.3 1524 1540.7 1488 1548.5 1456 1557 1416.3 1569.5 1386 1580.5 1348.8 1619 1302.4 1662.5 1282.6 1679 1263.4 1692.5 647.4 1692.5 636 1686.3 624.4 1679 612 1670.2 600.3 1661 578.8 1641.5 558 1619 500 1591.8 478 1582.4 454 1573 420 1561.2 384 1556.3 360 1554.5 334 1553.6 308 1554 282 1555.5 282 956Z"/>
<path fill="#0020ff" d="M1662 956 1662 1510.5 1560 1522.1 1530 1526.5 1500 1531.9 1474 1537.9 1448 1545.4 1420 1554.7 1386 1567.5 1360.8 1587.5 1338.9 1610 1318 1629.9 1300.9 1647.5 1289.6 1658 1269.4 1674.5 1248 1688.9 1245.5 1692.5 683 1692.5 666 1685.1 651.9 1677.5 636 1667 620.5 1655 603.3 1640 588 1625 573.1 1608.5 558 1589.7 512.5 1566.5 452.4 1544 420 1530.3 386 1530 352 1531.4 318 1534.4 282 1539.3 282 956Z"/>
<path fill="#0030ff" d="M1662 956 1662 1489.7 1625.3 1494.5 1482 1523.3 1460 1529 1438 1535.8 1414 1544.3 1386 1555.1 1358.7 1575.5 1334 1596.5 1318 1612.3 1301.1 1631 1285.9 1646 1266.8 1662.5 1248 1676.3 1236.6 1692.5 726.2 1692.5 710 1688.7 696 1684.5 682 1678.4 668 1670.9 654.9 1662.5 641.2 1652 624 1637 607.1 1620.5 591.7 1604 575.2 1584.5 558 1570.7 495.4 1541 482 1535.6 460 1527.5 438 1520.5 420 1515.5 412 1515 380 1514.1 348 1515.2 316 1518.3 282 1523.4 282 956Z"/>
<path fill="#0040ff" d="M1662 956 1662 1479.1 1620 1483.8 1584 1489.3 1554 1495.2 1524 1502.7 1502 1506.4 1482 1510.6 1460 1516.3 1438 1523.1 1414 1531.7 1386 1542.7 1360.3 1560.5 1348.3 1569.5 1331.4 1583 1318 1594.7 1299.9 1616 1282.7 1634 1266 1649.3 1248 1663.6 1237.7 1677.5 1227.7 1692.5 773.7 1692.5 736 1685.3 720 1680.9 706 1676.1 694 1671 680.8 1664 670 1657.2 658.9 1649 648 1639.7 635.6 1628 621.1 1613 604.8 1595 558 1557.7 540 1548 520 1538 500 1528.9 482 1521.5 458 1512.6 434 1505.2 420 1501.4 408 1500.5 378 1499.5 346 1500.4 314 1503.4 282 1508.3 282 956Z"/>
<path fill="#0050ff" d="M1662 956 1662 1468.5 1620 1472.7 1584 1477.6 1554 1483.2 1524 1490.4 1504 1493.5 1484 1497.4 1462 1502.9 1438 1510.4 1414 1519 1386 1530.3 1352.3 1554.5 1316 1579.6 1300.1 1599.5 1282.7 1619 1266 1635.5 1248 1651 1232.4 1671.5 1218.8 1692.5 821.2 1692.5 742 1678 722.1 1671.5 710 1666.5 698.9 1661 684 1652.3 672 1643.8 655.5 1629.5 632.7 1605.5 624 1597.7 606 1582.7 558 1544.6 540 1534.5 522 1525.2 502 1515.8 484 1508.1 458 1498.5 434 1491 420 1487.4 406 1486.2 376 1485.2 346 1486.2 314 1489.3 282 1494.5 282 956Z"/>
<path fill="#0060ff" d="M1662 956 1662 1457.9 1618 1461.7 1582 1466.3 1552 1471.5 1524 1478 1504 1480.9 1484 1484.7 1462 1490.2 1438 1497.6 1412 1507.2 1386 1518.1 1345.1 1548.5 1318 1567.6 1298.4 1586 1273.1 1614.5 1261.1 1626.5 1248 1638.4 1245.3 1641.5 1234.5 1655 1225.8 1667 1217.8 1679 1209.9 1692.5 868.6 1692.5 820 1684.6 742 1669.2 738 1667.8 724 1662.3 710 1655.5 700 1649.5 681.7 1637 670 1627.3 620 1581 558 1531.6 540 1521.1 522 1511.5 502 1501.8 484 1494 460 1485 434 1477 420 1473.4 402 1471.8 374 1471 344 1472.1 314 1475.3 282 1480.7 282 956Z"/>
<path fill="#0070ff" d="M1662 956 1662 1447.5 1618 1450.6 1580 1454.9 1550 1459.8 1524 1465.6 1504 1468.4 1486 1471.9 1462 1477.9 1438 1485.7 1414 1495 1386 1507.5 1318 1557.4 1278 1595 1264.1 1610 1248 1625.7 1232.1 1644.5 1215.8 1667 1208.3 1679 1202 1690.5 1185.6 1692.5 916.1 1692.5 868 1685.6 844 1681.6 770 1665.8 742 1660.5 726.2 1653.5 712.6 1646 703.6 1640 682 1623.9 664 1608.9 632 1578.6 618 1566.1 558 1518.6 542 1508.8 524 1498.9 506 1489.8 488 1481.8 462.8 1472 438 1464.2 420 1459.6 402 1457.9 374 1456.9 344 1457.9 314 1461.2 282 1466.9 282 956Z"/>
<path fill="#0080ff" d="M1662 956 1662 1437.2 1616 1439.4 1578 1442.9 1552 1446.6 1524 1452.2 1506 1454.7 1488 1458.2 1464 1464.4 1440 1472.6 1414 1483.5 1386 1497 1318 1547.3 1269.6 1592 1245.4 1616 1230 1633.3 1214.5 1653.5 1202 1673.1 1138 1682.4 1110 1685.7 1084.7 1688 1009.7 1692.5 963.6 1692.5 938 1688.3 880 1680.6 856 1676.8 830 1671.4 772 1657.5 742 1651.8 727.6 1644.5 715.3 1637 696 1621.5 678 1608.4 662 1594.4 632 1565.4 620 1554.6 606 1543 558 1505.5 542 1495.5 524 1485.2 506 1476 488 1467.8 464 1458.3 438 1450.2 420 1445.9 398 1443.6 370 1442.7 342 1443.8 312 1447.3 282 1452.8 282 956Z"/>
<path fill="#008fff" d="M1662 956 1662 1426.8 1616 1427.9 1578 1430.3 1546 1434 1504 1441 1480 1446.5 1458 1453.4 1434 1462.8 1408 1474.9 1386 1486.4 1316 1538.8 1265.6 1584.5 1237.6 1611.5 1218.8 1632.5 1209.6 1644.5 1202 1655.8 1146 1665.9 1072 1676.9 1026 1681.5 972 1684.6 888 1674.9 862 1670.9 834 1664.9 774 1649.3 742 1643.1 731.4 1637 696 1609 676 1594.3 662 1581.8 624 1545.2 610 1533.4 585.4 1514 558 1490.2 544 1481 528 1471.5 510 1461.9 494 1454.3 470 1444.6 444 1436.2 420 1430.5 400 1428.4 372 1427.4 342 1428.8 312 1432.7 282 1438.8 282 956Z"/>
<path fill="#009fff" d="M1662 956 1662 1416.5 1618 1416.4 1582 1417.5 1550 1419.9 1522 1423.6 1498 1428.3 1474 1434.9 1450 1443.6 1428 1453.6 1386 1475.6 1316 1528.6 1262.9 1575.5 1235.2 1601 1217.7 1619 1201.7 1638.5 1146 1650.4 1068 1664.2 1024 1669.6 972 1673.2 904 1668.5 884 1666.2 866 1663.4 852 1660.5 836 1656.3 776 1638.4 760 1634.7 742 1631.3 696 1596.7 682 1587.3 672 1579.3 656 1564.3 620 1527.8 558 1472.7 544 1463.3 528 1453.6 512 1445 496 1437.3 472 1427.6 446 1419.3 420 1413.4 400 1411.6 372 1411.1 342 1413.2 312 1417.8 282 1424.7 282 956Z"/>
<path fill="#00afff" d="M1662 956 1662 1406.2 1616 1404.9 1592 1405.1 1564 1406.9 1538 1410.1 1510 1415.4 1484 1422.1 1458 1430.9 1432 1441.7 1386 1463.9 1360.6 1482.5 1331.3 1505 1318 1515.4 1303.4 1529 1230.6 1592 1214.8 1607 1202 1621.1 1152 1633.6 1080 1648.3 1058 1651.8 1036 1654.3 1002 1656 972 1655.1 946 1655.7 918 1655.2 888 1652.9 864 1648.9 848 1644.8 780 1624.1 764 1620.5 742 1616.9 688 1580.4 674.3 1569.5 660.4 1556 632 1524.8 620 1512.5 558 1455.1 544 1445.6 528 1435.8 512 1427.1 496.2 1419.5 470 1409.1 446 1401.9 420 1396.4 400 1394.9 372 1394.9 342 1397.6 312 1402.9 282 1410.7 282 956Z"/>
<path fill="#00bfff" d="M1662 956 1662 1396 1628 1395.5 1598 1396.1 1570 1398 1544 1401.1 1508.8 1407.5 1486 1412.8 1460 1420.8 1434 1430.8 1386 1452.2 1318 1499.8 1274.2 1541 1216.3 1590.5 1202 1603.7 1150 1618.4 1094 1631.5 1072 1636 1050 1639.6 1030 1642.1 1012 1643.5 990 1644.2 954 1643.9 908 1641.7 888 1639.4 870 1636.2 855.7 1632.5 834 1624.8 784 1609.8 764 1605.4 742 1602.4 704 1580 690 1570.6 679.2 1562 662.5 1545.5 630 1507.8 616 1493.2 599.8 1478 558 1442.5 544 1433.1 528 1423.5 514 1416 498 1408.5 472 1398.3 446 1390.8 420 1385.6 396 1383.6 368 1383.6 340 1386.2 312 1391 282 1398.7 282 956Z"/>
<path fill="#00cfff" d="M1662 956 1662 1386 1626 1386.3 1596 1387.5 1568 1389.8 1544 1393.1 1502 1400.6 1478 1406.2 1452 1414.1 1421.9 1425.5 1386 1440.5 1318 1484.3 1279.3 1521.5 1240.8 1556 1222.7 1571 1202 1586.4 1172 1597.5 1148 1605.2 1128 1610.6 1110 1614.4 1085.8 1622 1060 1628.4 1042 1631.9 1024 1634.6 1006 1636.4 988 1637.3 970 1637.5 950 1636.9 928 1635.4 908 1633.4 886 1629.8 866 1624.6 850.6 1619 834 1611.5 786 1595.1 766 1590.7 742 1588 719.4 1577 708 1570.7 696 1563.1 684.9 1554.5 667.6 1538 634.3 1500.5 620 1485.9 604 1471.6 558 1433.2 542 1422.4 526 1412.9 510 1404.4 494 1397 468 1387.1 442 1379.8 420 1375.4 394 1373.3 368 1373.3 340 1375.8 312 1380.5 282 1388 282 956Z"/>
<path fill="#00dfff" d="M1662 956 1662 1375.9 1622 1377.3 1594 1379 1568 1381.5 1546 1384.7 1524 1389 1498 1393 1476 1397.8 1434 1409.3 1420 1414.1 1406 1419.7 1386 1428.8 1318 1468.6 1282.6 1503.5 1248 1535.3 1234.6 1548.5 1221.1 1560.5 1208.3 1571 1202 1575.8 1166 1588.4 1136 1596.4 1110 1601.1 1080 1612.6 1053.5 1620.5 1028 1625.8 1004 1629.1 972 1631.1 942 1629.3 906 1624.8 890 1621.6 876 1617.8 858 1611.2 834 1599.4 790 1583.4 778 1579.6 766 1576.7 742 1573.4 718 1562.6 702 1553.9 686 1542.7 672 1530.5 660 1518.2 632 1487.6 616 1472.1 600.2 1458.5 558 1423.9 540 1411.8 522 1401.1 504 1391.9 486 1383.9 462 1375.3 436 1368.3 416 1364.7 390 1362.9 364 1363.2 338 1365.6 310 1370.4 282 1377.4 282 956Z"/>
<path fill="#00efff" d="M1662 956 1662 1365.8 1620 1368.3 1588 1370.9 1554 1375.2 1524 1381.2 1506 1382.8 1488 1382.6 1474 1384.1 1454 1388.2 1440 1392 1422 1398 1404 1405.2 1386 1413.3 1318 1453 1281.2 1490 1248 1521.2 1227.7 1542.5 1207.9 1560.5 1202 1565.4 1176 1574.2 1158 1579.3 1142 1583.1 1126 1586 1110 1587.9 1094 1594.4 1076 1601 1058 1606.7 1040 1611.5 1014 1617.2 986 1621.3 972 1622.7 942 1619.6 908 1614.1 882 1607.7 862 1600.7 848 1594.5 834 1587.4 788 1569.7 766 1563.1 742 1558.9 718 1548.8 700 1539.5 686 1530.2 674 1520.4 662 1508.9 634 1479.3 620 1465.6 602 1450.1 558 1414.6 540 1402.3 522 1391.6 504 1382.2 484 1373.3 460 1364.7 434 1357.8 416 1354.5 390 1352.6 364 1352.9 338 1355.2 310 1359.9 282 1366.7 282 956Z"/>
<path fill="#00ffff" d="M1662 956 1662 1355.8 1580 1357.8 1551.8 1359.5 1524 1362.3 1502 1361.7 1480 1363.7 1472 1365.4 1467.5 1367 1408 1391 1396 1395.2 1386 1397.9 1318 1437.9 1315.3 1440.5 1304.7 1454 1296.3 1463 1285.2 1473.5 1269.2 1487 1248 1507.1 1228.9 1529 1209.3 1548.5 1202 1555.1 1186 1560.3 1166 1566 1146 1570.5 1128 1573.3 1110 1574.6 1098.8 1580 1086 1585.3 1072 1590.3 1058 1594.5 1016 1604.3 982 1609.7 972 1610.8 938 1607.2 908 1602.2 884 1596.2 860 1587.9 848 1582.6 834 1575.3 786 1556.1 766 1549.6 742 1544.3 728 1539.1 710 1531.5 696 1524.1 682 1514.8 670 1504.9 658 1493.4 630 1464.9 614 1450.2 558 1405.3 540 1392.9 520 1380.9 500 1370.6 480 1361.9 456 1353.5 430 1346.8 412 1343.9 388 1342.3 362 1342.7 336 1345.1 310 1349.4 282 1356.1 282 956Z"/>
<path fill="#10ffef" d="M1662 956 1662 1347.4 1608 1346.8 1550 1344.3 1528 1346.5 1506 1350.3 1484 1355.7 1464 1361.7 1418 1377.1 1408 1379.8 1396 1382.3 1386 1385.4 1318 1430 1281 1469 1267.6 1481 1241.9 1502 1223.3 1523 1210.4 1536.5 1202 1544.7 1198 1546 1178 1551.8 1160 1556.1 1124 1561.9 1110 1564.7 1072 1580.4 1054 1586.7 1028.6 1593.5 1002 1598.4 972 1601.5 958 1600.6 940 1598.8 922 1596.2 906 1593.1 892 1589.6 880 1585.9 862 1579.1 848 1572.8 834 1565.8 791.2 1548.5 766 1539.8 742 1533.4 722 1526.2 708 1520.3 694 1512.9 682 1505.3 671.9 1497.5 660.3 1487 632 1458.8 620 1447.6 600 1430.7 558 1397.5 540 1385 520 1372.9 499.9 1362.5 479.2 1353.5 454 1344.8 430 1338.7 412 1335.8 388 1334.1 362 1334.3 336 1336.6 306.5 1341.5 282 1347.4 282 956Z"/>
<path fill="#20ffdf" d="M1662 956 1662 1341.2 1606 1338.6 1584 1338.2 1558 1338.9 1534 1341.1 1508 1344.9 1484 1349.9 1416 1368 1394 1374.4 1386 1376.9 1318 1422.3 1294 1448 1271.4 1470.5 1223.6 1512.5 1202 1534.3 1140 1552.3 1110 1559.4 1082 1570 1054 1578.7 1020 1587.9 994 1592.9 972 1595.6 958 1594.4 922 1589.5 906 1586.3 890 1582.3 876 1578 862 1572.9 848 1566.7 834 1559.7 783.7 1539.5 764 1532.9 742 1527.3 724 1520.8 708 1514.1 694 1506.8 682 1499.1 670 1489.8 658 1478.8 629.9 1451 616 1438.3 596 1421.7 558 1391.6 540 1379.3 520 1367.3 502 1357.9 482 1349.2 458 1340.7 434 1334.4 414 1330.8 388 1328.7 362 1328.8 336 1330.8 310 1334.9 282 1341.2 282 956Z"/>
<path fill="#30ffcf" d="M1662 956 1662 1335 1612 1333.4 1586 1333.2 1562 1333.9 1540 1335.7 1504 1340.6 1480 1345 1426 1356.9 1392 1366.6 1386 1368.5 1318 1414.5 1293 1442 1269.2 1466 1253 1481 1202 1525.7 1172 1536.5 1150 1543.7 1130 1549.4 1110 1554.1 1086 1563.2 1062 1570.8 1028 1579.6 992 1586.8 972 1589.6 958 1588.5 922 1583.5 892 1576.8 878 1572.6 864 1567.5 850 1561.5 834 1553.5 784 1533.6 764 1526.9 742 1521.3 724 1514.7 708 1507.9 694 1500.6 682 1493.1 670 1483.8 658 1472.9 630 1445.4 616 1432.6 594 1414.3 558 1385.8 540 1373.5 520 1361.6 501.2 1352 482 1343.7 458 1335.3 434 1329.1 412 1325.4 388 1323.3 362 1323.2 336 1325.1 310 1328.9 282 1335 282 956Z"/>
<path fill="#40ffbf" d="M1662 956 1662 1328.8 1588 1328.1 1566 1328.7 1544 1330.5 1524 1333.4 1498 1336.2 1448 1343.8 1422 1349.5 1390 1358.8 1386 1360 1318 1406.8 1290.7 1437.5 1264.2 1464.5 1248 1479.7 1202 1519 1154 1536.6 1132 1543.3 1110 1548.7 1090 1556.4 1068 1563.5 1032 1573 996 1580.2 972 1583.7 964 1583.1 946 1581.2 928 1578.5 910 1575.1 894 1571.3 878 1566.5 864 1561.3 850 1555.3 834 1547.4 784 1527.6 764 1520.9 742 1515.2 724 1508.6 708 1501.8 694 1494.5 682 1487 670 1477.8 658 1467.1 630 1439.7 616 1426.9 592 1406.8 558 1379.9 540 1367.7 522 1357.1 503.4 1347.5 484 1339 460 1330.6 436 1324.3 412 1320.2 388 1318 362 1317.7 336 1319.4 310 1323 282 1328.8 282 956Z"/>
<path fill="#50ffaf" d="M1662 956 1662 1321.3 1600 1321.6 1560 1323.7 1542 1325.8 1524 1328.8 1498 1330.9 1476 1331.7 1460 1333.5 1436 1337.8 1409.6 1344.5 1402 1347.5 1386 1355.2 1340 1385.3 1318 1399.1 1288.4 1433 1259.3 1463 1248 1473.8 1202 1512.2 1175.1 1523 1152 1531.4 1130 1538.4 1110 1543.4 1092 1550.2 1074 1556.2 1038 1565.8 1000 1573.7 978 1577.1 970 1577.7 950 1575.7 932 1573.2 914 1570 896 1565.7 880 1561 866 1556 852 1550.1 834 1541.3 784 1521.6 764 1514.9 742 1509.1 726 1503.2 708 1495.6 694 1488.3 682 1480.9 670 1471.8 658 1461.2 630 1434 614 1419.4 590 1399.4 558 1374.1 540 1362 522 1351.4 504 1342.2 485.1 1334 462 1325.9 438 1319.5 412 1314.9 388 1312.6 362 1312.1 336 1313.5 310 1316.8 282 1322.2 282 956Z"/>
<path fill="#60ff9f" d="M1662 956 1662 1309.8 1562 1317.9 1540 1321 1524 1324.2 1496 1322.7 1472 1323.7 1450 1326.6 1430 1331 1410 1339.2 1386 1350.9 1318 1393.9 1305.8 1406 1290.3 1424 1275.2 1440.5 1248.5 1467.5 1202 1505.5 1174 1517.2 1150 1526.3 1130 1532.8 1110 1538.1 1078 1549.4 1044 1558.7 1006 1566.7 972 1571.9 952 1570.1 934 1567.6 916 1564.4 900 1560.7 882 1555.5 866 1549.8 852 1543.9 834 1535.2 782 1514.9 764 1508.9 742 1503.1 728 1497.9 710 1490.4 694 1482.2 680 1473.5 668 1464.2 614 1413.7 588 1391.9 558 1368.2 540 1356.2 522 1345.7 504 1336.6 486 1328.9 464 1321.1 440 1314.7 410 1309.4 386 1306.9 362 1306.1 338 1306.9 312 1309.5 282 1314.5 282 956Z"/>
<path fill="#70ff8f" d="M1662 956 1662 1303.2 1570 1309.2 1546 1312.1 1524 1316.3 1498 1314.4 1474 1315.2 1456 1317.3 1442 1321.5 1416 1331.7 1386 1346.5 1318 1389 1293.6 1413.5 1270.5 1439 1248 1462 1202 1498.8 1182 1507.6 1160 1516.7 1142 1523.4 1126 1528.5 1110 1532.8 1094 1538.7 1076 1544.5 1040 1553.9 999.7 1562 972 1566 954 1564.4 936 1562 918 1558.8 902 1555.1 884 1550 868 1544.4 852 1537.7 834 1529.1 782 1508.9 764 1502.9 742 1497 730 1492.5 710 1484.3 692 1474.9 680 1467.4 668 1458.2 656 1447.6 628 1420.7 612 1406.3 584 1382.9 558 1362.4 540 1350.3 522 1339.7 504 1330.5 486 1322.6 464 1314.8 440 1308.4 408 1302.6 384 1299.9 360 1299 336 1299.8 310 1302.4 282 1307.2 282 956Z"/>
<path fill="#80ff80" d="M1662 956 1662 1297 1568 1302 1544 1304.6 1524 1308.1 1502 1306.2 1482 1306.3 1466 1309 1448 1314 1434 1319.1 1420 1325 1390 1340 1318 1384 1282.6 1419.5 1248 1456.1 1202 1492 1172 1505.7 1138 1519.1 1110 1527.4 1094 1533.3 1076 1538.9 1038 1548.5 996 1556.6 974 1559.7 970 1559.8 936 1555.9 920 1553 904 1549.4 886 1544.4 868 1538.2 852 1531.5 834 1522.9 782 1502.9 764 1497 742 1490.9 732 1487.2 710 1478.1 692 1468.8 678 1459.9 666 1450.6 610 1398.8 582 1375.4 558 1356.5 540 1344.3 522 1333.5 504 1324.1 484 1315.3 462 1307.5 438 1301 410 1295.8 386 1293.1 362 1292.3 336 1293.4 310 1296.2 282 1301.2 282 956Z"/>
<path fill="#8fff70" d="M1662 956 1662 1290.8 1638 1292.2 1568 1294.6 1544 1296.8 1524 1299.9 1506 1298.1 1492 1298.5 1472 1301.5 1452 1307 1440 1311.4 1426 1317.3 1398 1331.3 1386 1337.9 1318 1379.1 1272.9 1424 1248 1450.2 1202 1485.3 1163.1 1503.5 1134 1514.9 1110 1522 1092 1528.5 1074 1533.9 1038 1542.6 994 1550.8 972 1553.8 968 1553.5 936 1549.7 906 1543.8 888 1538.8 870 1532.7 854 1526.2 834 1516.8 782 1497 764 1491 742 1484.8 734 1481.8 712 1472.9 692 1462.7 678 1453.9 666 1444.6 608 1391.3 580 1367.9 558 1350.7 540 1338.3 520 1326.2 502 1316.9 482 1308 458 1299.5 434 1293.1 410 1288.7 386 1286.3 362 1285.7 336 1287 310 1290 282 1295.2 282 956Z"/>
<path fill="#9fff60" d="M1662 956 1662 1284.6 1636 1285.9 1566 1287.3 1544 1289 1524 1291.7 1512 1290.8 1498 1291 1478 1293.9 1456 1300 1432 1309.6 1404 1323.5 1386 1333.5 1318 1374.1 1260.2 1431.5 1248 1444.3 1202 1478.5 1178.8 1490 1160 1498.6 1132 1509.6 1110 1516.3 1094 1522 1076 1527.5 1040 1536.3 998 1544.1 972 1547.6 938 1543.9 908 1538.1 888 1532.6 870 1526.5 854 1520 834 1510.7 782 1491 764 1485 742 1478.8 714 1467.6 692 1456.6 678 1448 666 1438.8 606 1384.1 578 1360.8 556 1343.8 538 1331.3 518 1319.3 498 1308.9 478 1300.1 454 1291.7 430 1285.3 412 1282 388 1279.7 362 1279.2 336 1280.6 310 1283.8 282 1289.1 282 956Z"/>
<path fill="#afff50" d="M1662 956 1662 1278.3 1636 1279.3 1568 1279.6 1544 1281 1524 1283.5 1514 1283.1 1504 1283.4 1484 1286.3 1462 1292.3 1438 1301.7 1412 1314.5 1392 1325.7 1318 1369.2 1248 1438.5 1202 1471.3 1176 1484.6 1154 1494.9 1128 1505.1 1076 1521.7 1040 1530.2 996 1538.3 972 1541.4 940 1538 910 1532.3 892 1527.6 874 1521.7 856 1514.7 834 1504.6 790 1487.9 768 1480.2 742 1472.7 712 1460.6 690 1449.5 678 1442 664 1431.4 604 1377 576 1353.8 554 1337 536 1324.5 517.1 1313 494 1301 476 1293.2 452 1284.7 428 1278.3 410 1275.2 388 1273.3 362 1272.9 336 1274.4 310 1277.7 282 1283.1 282 956Z"/>
<path fill="#bfff40" d="M1662 956 1662 1270.8 1634 1271.8 1574 1271.7 1548 1272.8 1524 1275.5 1510 1275.9 1498 1277.2 1482 1280.4 1466 1285.1 1444 1293.7 1418 1306.5 1356 1341.8 1318 1364.2 1248 1433.3 1202 1464 1172.9 1479.5 1148 1491.2 1124 1500.6 1092 1511.2 1074 1516.4 1038 1524.6 994 1532.4 972 1535.2 940 1531.9 912 1526.6 894 1522 876 1516.2 856 1508.5 834 1498.4 790 1481.9 768 1474.2 742 1466.6 712 1454.5 690 1443.4 678 1436.1 664 1425.6 600 1368.2 574 1346.9 550 1328.8 532 1316.6 512 1304.7 494 1295.5 474 1286.9 450 1278.5 426 1272.3 408 1269.3 386 1267.4 362 1267.1 336 1268.6 310 1271.8 282 1277 282 956Z"/>
<path fill="#cfff30" d="M1662 956 1662 1263.3 1634 1264.4 1572 1264.1 1546 1265.3 1500 1270 1486 1273 1470 1277.8 1456 1283.1 1438 1291 1402 1309 1370 1327.1 1318 1359.2 1248 1428.2 1206 1454.2 1191 1463 1166 1476.4 1144 1486.8 1122 1495.4 1094 1504.8 1076 1510.1 1040 1518.3 996 1526 972 1529.1 942 1526.1 914 1521 894 1515.9 876 1510.1 856 1502.3 834 1492.3 792 1476.6 768 1468.2 742 1460.6 712 1448.4 690 1437.4 678 1430.2 664 1419.9 598 1361.2 574 1341.5 550 1323.5 532 1311.2 512 1299.3 494 1290.1 474 1281.4 450 1273 426 1266.7 408 1263.7 386 1261.7 362 1261.3 336 1262.7 310 1265.9 282 1271 282 956Z"/>
<path fill="#dfff20" d="M1662 956 1662 1255.8 1632 1257 1568 1256.6 1542 1257.9 1512 1261.1 1498 1263.4 1482 1267.2 1464 1272.8 1444 1280.7 1422 1290.9 1394 1305.6 1378 1315.2 1316 1356.4 1303.1 1368.5 1248 1423 1176 1464.5 1158 1474 1142 1481.6 1120 1490.3 1094 1499.1 1078 1503.8 1044 1511.6 1000 1519.5 972 1523.1 944 1520.4 918 1515.9 898 1511 878 1504.6 858 1497 834 1486.2 792 1470.6 768 1462.2 742 1454.5 712 1442.3 688 1430.3 676 1423 662 1412.5 594 1352.5 572 1334.6 548 1316.7 530 1304.6 510 1292.8 492 1283.7 472 1275.1 446 1266.2 422 1260.1 404 1257.7 386 1256.4 362 1256.1 336 1257.6 310 1260.9 282 1266.1 282 956Z"/>
<path fill="#efff10" d="M1662 956 1662 1248.2 1632 1249.4 1568 1248.9 1542 1250.2 1512 1253.4 1498 1255.6 1482 1259.4 1464 1265 1446 1272 1428 1280.2 1408 1290.3 1386 1302.3 1316 1352.3 1290.2 1376 1248 1417.9 1222 1432 1202 1442.1 1166 1463.4 1140 1476.4 1118 1485.2 1096 1492.7 1078 1498 1046 1505.3 1000 1513.5 972 1517.2 944 1514.5 920 1510.3 900 1505.4 880 1499.2 858 1490.8 834 1480 778 1459.6 742 1448.4 712 1436.2 688 1424.2 676 1416.9 662 1406.4 594 1346.3 572 1328.5 546 1309 527.6 1296.5 508 1284.9 489.5 1275.5 470 1267.1 446 1258.8 422 1252.7 408 1251.1 390 1250.1 364 1250.3 338 1252.1 310 1256 282 1261.5 282 956Z"/>
<path fill="#ffff00" d="M1662 956 1662 1239.9 1636 1241.3 1572 1241 1542 1242.4 1510 1245.9 1498 1247.8 1482 1251.5 1464 1257.3 1448 1263.6 1432 1270.7 1386 1294.1 1353.2 1320.5 1316 1348.1 1278.7 1382 1248 1412.7 1202 1435.8 1168 1456.1 1140 1470.4 1118 1479.4 1100 1485.5 1084 1490.2 1050 1498.1 1004 1506.9 972 1511.3 946 1508.8 923.2 1505 904 1500.2 882 1493.3 860 1485.1 834 1473.9 792 1458.6 768 1450.3 742 1442.4 712 1430.1 690 1419.1 676 1410.5 660 1398.3 590 1335.1 570 1318.4 549.1 1302.5 530 1289.5 511.6 1278.5 492 1268.5 472 1260 450 1252.4 426 1246.3 414 1244.5 394 1243.6 368 1244.1 340 1246.4 312 1250.6 282 1256.8 282 956Z"/>
<path fill="#ffef00" d="M1662 956 1662 1232.5 1634 1234.2 1568 1233.9 1538 1235.4 1512 1238.2 1498 1240.5 1480 1244.9 1462 1250.7 1446 1256.8 1428 1264.7 1386 1285.6 1372.8 1298 1357.2 1311.5 1338.8 1326.5 1316 1343.9 1296.3 1361 1270 1385 1248 1407.2 1202 1430.2 1170 1449.3 1142 1463.7 1118 1473.5 1100 1479.4 1083.9 1484 1052 1490.8 986 1502.3 972 1504.5 948 1501.7 926 1498 902 1492.3 878 1485 856 1477 834 1468 787.1 1451 766 1443.8 742 1436.5 714 1425 692 1414 676 1404.2 660 1391.9 644 1377.7 590 1327.2 572 1311.6 554.8 1298 535.3 1284.5 515.3 1272.5 494.6 1262 474 1253.3 450.7 1245.5 426.4 1239.5 420 1238.3 410 1237.3 390 1236.5 364 1237.3 338 1240.1 312 1244.8 282 1252 282 956Z"/>
<path fill="#ffdf00" d="M1662 956 1662 1227.2 1634 1228.7 1568 1227.7 1538 1228.8 1510 1231.5 1496 1233.8 1478 1238.1 1460 1243.8 1444 1249.9 1428 1256.8 1386 1277.1 1373.2 1290.5 1355.6 1307 1338.2 1322 1315.6 1340 1292.5 1359.5 1267.5 1382 1248 1401.1 1202 1424.7 1170 1443.4 1144 1456.6 1130 1462.5 1118 1466.9 1098 1473.1 1082 1477.4 1050 1483.8 994 1492.7 972 1495.5 944 1493 918 1488.9 896 1483.9 872 1476.8 784 1444.5 742 1431 714 1419.1 692 1407.8 676 1397.9 658 1383.8 642 1369.3 590 1319.9 574 1305.7 558 1292.6 538 1278.8 518 1266.9 498 1256.8 478.4 1248.5 454 1240.3 430 1234.4 412 1231.6 388 1230.1 362 1230.5 336 1233 308 1237.8 282 1244.1 282 956Z"/>
<path fill="#ffcf00" d="M1662 956 1662 1222 1632 1223.3 1566 1221.5 1536 1222.3 1510 1224.5 1496 1226.6 1478 1230.7 1459.2 1236.5 1442 1242.9 1426 1249.8 1408 1258.6 1386 1270.1 1363.4 1293.5 1344.5 1311.5 1327.1 1326.5 1282.8 1362.5 1248 1394.9 1202 1419.1 1168 1438.7 1144 1450.4 1120 1459.7 1100 1465.7 1084 1469.8 1054 1475.5 998 1483.5 972 1486.5 966 1486.3 938 1484.5 912 1480.7 890 1475.7 866 1468.7 780 1437.8 742 1425.5 714 1413.2 692 1401.7 674 1390.2 656 1375.7 640 1361 588 1310.8 572 1296.5 558 1284.8 540 1272.7 521.7 1262 502 1252 483.2 1244 460 1236 438 1230.3 414 1226.1 390 1224.3 364 1224.3 338 1226.2 310 1230.1 282 1235.9 282 956Z"/>
<path fill="#ffbf00" d="M1662 956 1662 1216.6 1634 1217.4 1568 1214.8 1540 1215.2 1512 1217.4 1498 1219.1 1480 1222.8 1462 1228.2 1447.6 1233.5 1428 1242 1408 1251.7 1386 1263.2 1349.8 1301 1337.2 1313 1318 1329.7 1288.9 1352 1272.3 1365.5 1258.9 1377.5 1248 1388.5 1222 1402.2 1174 1429.6 1146 1443.4 1122 1452.5 1086 1462.5 1058 1467.8 1018 1473.1 982 1477 962 1477.8 936 1476.8 924 1475.6 906 1472.7 884 1467.8 860 1460.9 778 1431.8 742 1420.1 718 1409.3 702 1401.1 688 1393.2 678 1386.8 658 1371.2 638 1352.9 588 1303.9 572 1289.5 558 1277.8 540 1265.9 524 1256.6 508 1248.4 488 1239.7 464 1231.5 440 1225.3 416 1221.2 390 1218.8 364 1218.6 338 1220.3 310 1224.1 282 1229.7 282 956Z"/>
<path fill="#ffaf00" d="M1662 956 1662 1209.2 1648 1210 1632 1210.2 1568 1207.9 1540 1208.3 1510 1210.6 1496 1212.5 1480 1216.1 1462 1221.5 1446 1227.5 1428 1235.2 1408 1244.8 1386 1256.3 1337.5 1307 1323.7 1320.5 1316 1327.1 1271.8 1359.5 1258.8 1370 1248 1379.6 1190 1414.9 1168 1426.9 1150 1435.5 1126 1444.7 1090 1454.9 1064 1460.2 1030 1465.1 990 1469.9 966 1471.6 936 1470.8 922 1469.4 906 1466.9 882 1461.6 858 1454.6 776 1425.7 742 1414.6 712 1400.7 692 1390.1 674 1378.6 654 1362.4 636 1345.6 586 1296.4 558 1271.9 542 1261.2 524 1250.6 506 1241.4 488 1233.8 466 1226.2 442 1220.1 416 1215.8 390 1213.4 364 1213.1 338 1214.6 310 1218.2 282 1223.5 282 956Z"/>
<path fill="#ff9f00" d="M1662 956 1662 1201.8 1634 1203.1 1568 1201.2 1538 1201.9 1510 1204.4 1496 1206.3 1478 1210.3 1458 1216.3 1442 1222.4 1426 1229.3 1408 1237.9 1386 1249.4 1338 1299.6 1316 1321.8 1264.9 1358 1246.9 1371.5 1202 1402.4 1176 1416.9 1154 1427.7 1130 1437 1092 1447.7 1068 1452.9 1038 1457.5 994 1463.2 968 1465.4 952 1465.6 936 1464.9 922 1463.5 906 1461.1 882 1455.8 856 1448.4 774 1419.7 742 1409.2 712 1395.5 692 1385 674 1373.5 654 1357.2 634 1338.4 586 1290.8 572 1277.9 558 1266 540.9 1254.5 524 1244.5 506 1235.3 488 1227.5 466 1219.8 442 1213.6 412 1208.5 388 1206.3 362 1205.8 336 1207.3 310 1210.4 282 1215.6 282 956ZM1014 1032.9 972 1035 934 1035 884.7 1034 834 1031.2 812 1035.8 796 1040 789.9 1046 781.4 1052 772.5 1056.5 762 1060.3 752 1063 680.9 1079 681.3 1080.5 696 1095.1 702 1098 716 1102.5 742 1107.7 762.8 1113.5 782 1120.4 798.6 1128.5 808 1134.4 815.8 1140.5 826 1150.6 834 1161.2 848.4 1172 861.3 1184 865.3 1185.5 878 1187.9 896 1190.2 938 1193.7 1018 1197.3 1082 1197.1 1092 1198.4 1098 1200.9 1104 1200.6 1106 1199.5 1110 1199.2 1112 1197.9 1115.1 1197.5 1116 1196.8 1119.4 1196 1130 1191 1144.9 1185.5 1160.2 1169 1168.6 1161.5 1178 1154.2 1194 1143.9 1220 1130 1234 1120.3 1241.6 1113.5 1248 1106.5 1251.7 1091 1255.6 1077.5 1253.7 1076 1248.7 1074.5 1234 1071.6 1222.8 1068.5 1212 1064.7 1202 1060.1 1190 1057.1 1180 1053.9 1168 1048.7 1156.6 1041.5 1152.8 1040 1134 1034.7 1112 1029.6 1110 1029.1Z"/>
<path fill="#ff8f00" d="M1662 956 1662 1194.6 1634 1196.1 1568 1194.9 1538 1195.9 1508 1198.5 1494 1200.5 1476 1204.4 1456 1210.4 1440 1216.5 1424 1223.4 1386 1242.5 1338 1292.8 1316 1315 1292.5 1332.5 1247.4 1364 1202 1396.8 1180 1409 1160 1418.7 1146 1424.5 1134 1428.6 1122 1432 1110 1434.4 1088 1441.3 1066 1446.2 1037.2 1451 994 1456.8 968 1459.3 952 1459.5 936 1459 922 1457.7 908 1455.6 882 1450.1 854 1442.2 742 1403.7 712 1390.2 692 1379.8 674 1368.3 654 1352.1 634 1333.2 585.3 1284.5 574 1274 558 1260.4 538 1246.9 520.3 1236.5 505.8 1229 486 1220.3 464 1212.5 442 1206.6 410 1201.1 388 1198.7 364 1197.8 338 1198.6 312 1201 282 1205.5 282 956ZM969 1008.5 834 1014.2 771.3 1019 748 1022.8 696 1034.8 648 1041.8 584 1053.9 558 1056.9 548 1059.8 546.4 1061 558 1070.6 572 1080.5 589.4 1094 605.3 1107.5 618.1 1119.5 634.8 1128.5 646.7 1136 656.5 1143.5 667.7 1154 696 1165.1 702 1166.4 712 1167.3 728 1169.7 730 1170.5 742 1164.1 758 1178 762 1178.5 763.2 1179.5 792 1187.9 809 1194.5 834 1200.4 864 1203.8 895 1206.5 914 1207.1 920 1207.9 972 1205.9 1008.4 1211 1026 1211.5 1050 1211.1 1066 1209.6 1084 1206.8 1105.5 1202 1130 1194.7 1202 1170.9 1248 1160.9 1265.3 1154 1278.3 1148 1282.6 1145 1289 1127 1295.3 1112 1305.5 1092.5 1316 1076.9 1318 1071.9 1319.6 1065.5 1316 1063.5 1298 1062.4 1280 1059.5 1264 1055.7 1248 1051.1 1234 1044.9 1222.7 1038.5 1212 1030.8 1202 1021.7 1182 1017.2 1160 1013.2 1146.5 1011.5 1112 1008.5 1090 1007.8 1028 1007.1Z"/>
<path fill="#ff8000" d="M496.3 956 1662 956 1662 1187.3 1632 1189.1 1568 1188.7 1538 1189.9 1508 1192.5 1492 1194.6 1472.1 1199 1454 1204.5 1432 1213 1386 1233.7 1376.4 1245.5 1350.9 1272.5 1318 1306.5 1312 1311.5 1282.2 1334 1202 1391.1 1184 1400.6 1166 1409.1 1150 1415.6 1136 1420.3 1122 1424 1110 1426.2 1096 1430.9 1080 1435.3 1052 1441.1 1008 1448.1 972 1452.6 952 1453.3 926 1452.2 900 1448.4 876 1442.9 848 1434.8 742 1398.3 712.1 1385 694 1375.8 676 1364.4 658 1350 642 1335.1 588.9 1283 573.8 1269.5 558 1256.5 538 1242.8 518 1230.7 498 1220.3 478 1211.4 456 1203.4 432 1196.6 408 1191.9 386 1189.3 364 1188.3 340 1188.9 314 1191 282 1195.2 282 961.2 332 961.1 374 961.7 402 963 420 965.1 456 961.8ZM992.3 996.5 834 1002.3 792 1006 742 1008.7 696 1007.3 648 1007.3 610 1008.4 558 1011.3 522 1018.5 476 1029.5 462 1034 462.5 1035.5 485.6 1049 509.3 1065.5 542.7 1086.5 606 1130 631.7 1142 664.3 1155.5 696 1167.4 718.2 1172 742 1176.1 779.4 1188.5 816 1198.3 834 1202.3 852 1204.2 912 1209 1012 1213.2 1030 1213.3 1048 1212.7 1064 1211.3 1080 1209 1098 1205.4 1114 1201.4 1202 1173.2 1248.7 1163 1275.5 1152.5 1297.2 1142 1316 1130.8 1322.6 1125.5 1324.8 1122.5 1329.1 1109 1332.8 1094 1335.4 1079 1337.8 1061 1316 1046.8 1302 1044.4 1286 1040.6 1270 1035.8 1254 1030.1 1248 1027.9 1230.7 1016 1202 1004.4 1154 1000.3 1110 997.3 1050 996.1Z"/>
<path fill="#ff7000" d="M1662 956 1662 1180 1646 1181.4 1630 1182.1 1554 1182.8 1504 1186.8 1484 1189.9 1458 1196 1442 1200.6 1426 1206.2 1408 1213.4 1386 1223.2 1358.3 1257.5 1338 1279.2 1316 1301.6 1290.5 1322 1257.9 1346 1202 1385.2 1194 1389.3 1168 1401.3 1146 1409.6 1128 1414.6 1110 1417.9 1092 1424 1072 1429.3 1042 1435.3 992 1443.3 970 1445.9 946 1447 926 1446.2 904 1443.3 880 1438.2 854 1431 834 1424.7 778 1404.4 742 1392 716 1380.8 700 1373.2 690 1367.5 680 1360.9 660 1345.4 640 1327.4 588.7 1278.5 573.4 1265 558 1252.5 536 1237.4 514 1224 491.9 1212.5 468 1202 446 1194.1 424 1187.9 404 1183.9 384 1181.4 364 1180.3 342 1180.5 320 1181.7 282 1184.8 282 971.5 308 972.4 329.6 974 336 981.4 342.8 987.5 344.1 989 344.1 990.5 364 994.1 371.9 996.5 373.4 998 364 1002 352 1005.5 307.8 1014.5 306.2 1016 306.2 1029.5 314 1030.9 378 1035.4 406 1038.7 420 1041.1 448 1048 466 1053.3 484 1060 506 1070.4 526 1082.1 569 1112 587.9 1124 608.1 1134.5 642.8 1149.5 669.5 1160 696 1169.7 718 1174.4 742 1178.6 764 1186 787.6 1193 810.9 1199 834 1204.1 870 1207.5 906 1210 1018 1214.6 1038 1214.5 1058 1213.4 1074 1211.5 1092 1208.3 1110 1204.2 1120 1201.3 1176 1183.3 1202 1175.6 1248 1165.6 1266 1159.2 1282 1152.8 1315.6 1137.5 1320.3 1134.5 1333.9 1124 1345.7 1113.5 1360.8 1098.5 1363.9 1094 1361.2 1088 1359.2 1080.5 1357.5 1070 1356 1056.5 1355.3 1055 1353.4 1053.5 1344 1049.2 1336 1044.7 1316 1030 1298.8 1025 1272.7 1016 1248 1008.8 1225.3 999.5 1202 991.5 1148 988 1094 985.7 1044 984.7 994 984.9 952 985.9 834 990.4 792 994.9 742 998.6 716 995.8 696 992.7 671.5 990.5 668.6 989 665.4 986 658.5 977 652.5 965 649.4 956Z"/>
<path fill="#ff6000" d="M972 963.6 1042 964.5 1102 966.2 1110 966.5 1120 968.2 1131.4 971 1140 974 1136.2 975.5 1110 977.4 1046 975.2 972 973.7 834 978.7 804 977 792.8 975.5 788.8 974 808 969.9 834 966.5ZM1386 964.2 1440 966 1528 967.5 1570 970.6 1586 972.8 1599 975.5 1662 978.5 1662 1051.5 1638 1053.1 1612 1053.5 1524 1051.5 1498 1050.2 1466 1050.6 1446 1052.3 1426 1055.4 1407.8 1059.5 1386 1066.1 1380 1060.5 1373.3 1049 1370.7 1047.5 1364 1045.5 1356 1042.4 1343.5 1035.5 1329.4 1025 1318 1013.2 1316 1011.8 1286 1002.8 1248 993.3 1244.8 992 1245.6 990.5 1248 989 1254 987.4 1282 981 1316 974.5 1332 970.1 1350 967.3ZM287.4 1002.5 282 1004.4 282 1002ZM466 1063.2 476 1065 490 1069.5 504 1075.4 526 1087.1 572.5 1118 596 1131.5 625.5 1145 674 1164.1 696 1171.9 718 1176.8 742 1181.1 772 1190.7 802 1198.8 834 1205.9 850 1207.6 912 1211.6 1018 1215.9 1036 1215.9 1052 1215.2 1066 1214 1080 1212.1 1110 1205.8 1194 1180.2 1202 1178 1248 1168 1263.2 1163 1318 1142.8 1354 1120.2 1360 1117.1 1366 1114.9 1370 1114.6 1371.7 1115 1376 1117.5 1379.1 1124 1381.4 1133 1386 1139.2 1412 1122.5 1434 1111.1 1456 1102.3 1480 1095.8 1500 1092.1 1524 1089 1626 1081.6 1662 1077.7 1662 1172.6 1632 1175 1564 1176.2 1542 1177.4 1524 1179.5 1504 1179.7 1490 1180.6 1474 1182.7 1459.5 1185.5 1444 1189.6 1428 1195 1408 1202.9 1386 1212.7 1366.6 1238 1346.8 1262 1332 1278.5 1316 1294.8 1290.5 1316 1258.8 1340 1202 1379.3 1198 1381.3 1172 1392.9 1146 1402.3 1128 1407.2 1110 1410.7 1088 1417.9 1064 1423.8 1008 1433.8 972 1439 946 1440.7 922 1439.8 904 1437.4 884 1433.4 862 1427.7 834 1419.1 742 1385.1 714 1373.3 696 1364.6 678 1353.2 658 1337.7 638 1320 588.6 1274 572.9 1260.5 558 1248.6 534 1232.1 510 1217.6 490 1207.1 466 1196.3 446 1188.9 426 1182.8 406 1178.2 384 1174.8 364 1173.2 342 1172.7 310 1173.6 282 1175.3 282 1079.6 318 1076.7 334 1076.4 348 1076.8 370 1078.5 390 1080.8 406 1083.6 420 1087 426.1 1083.5 434 1073.3 440 1068.6 448.1 1065.5Z"/>
<path fill="#ff5000" d="M1386 978.8 1438 980.5 1524 980.1 1662 983 1662 1030.1 1604 1033 1524 1035.8 1478 1033.5 1450 1033.1 1434 1033.9 1422 1035.4 1386 1041.8 1376 1039.4 1368 1036.6 1359.4 1032.5 1350 1026.7 1344 1021.7 1333.7 1011.5 1326.7 1004 1323.8 999.5 1323.9 998 1328 994.9 1338 990.1 1364 983.3ZM466 1080.3 474 1079.3 488 1080.9 508 1085.9 522 1090.9 540 1101.1 579.5 1125.5 602 1137.3 620 1145.4 644.8 1155.5 696 1174.2 718 1179.2 742 1183.6 780 1195.1 820 1204.9 834 1207.7 868 1210.9 894 1212.4 972 1214.8 1024 1217.3 1056 1216.5 1080 1213.8 1096 1210.8 1112 1206.9 1174 1188 1198 1181.3 1242 1171.8 1262.6 1166 1316 1147.4 1344 1132.2 1356 1127.5 1360 1126.8 1364 1126.8 1368 1129.8 1370 1132.4 1373.3 1139 1376.3 1142 1386 1155.6 1412 1140.8 1430 1131.3 1448 1122.9 1464 1116.7 1482 1111.1 1500 1106.9 1522 1103.4 1538 1102.2 1562 1101.3 1626 1100.2 1662 1097.8 1662 1165.7 1634 1167.5 1560 1168.2 1540.8 1169 1524 1170.5 1504 1170.3 1484 1171.5 1464 1174.5 1446 1178.8 1428 1184.6 1400 1195.2 1394 1195.3 1386 1194.3 1381.7 1208 1372.9 1220 1344.3 1256 1328.7 1274 1316 1287.7 1293.8 1307 1263.6 1331 1248 1342.6 1202 1373.5 1174 1385.6 1150 1394.2 1130 1399.7 1110 1403.6 1086 1411.7 1060 1418.3 1018 1426.1 978 1431.9 948 1434.3 924 1434 904 1431.6 884 1427.6 862 1421.9 834 1413.5 742 1378.2 714 1366.6 696 1358.1 678 1346.9 658 1331.7 638 1314.4 585.2 1266.5 556 1242.7 534 1227.6 510 1213 488 1201.2 464 1190.3 444 1182.6 424 1176.4 400 1170.6 380 1167.4 362 1165.9 342 1165.5 282 1168 282 1097.6 300 1095.1 318 1093.4 334 1092.6 352 1092.6 370 1093.4 388 1095.1 404 1097.6 420 1100.9 424 1100.7 427.7 1100 448.4 1091 458.6 1083.5Z"/>
<path fill="#ff4000" d="M1634 987.5 1662 987.5 1662 1010.9 1588 1009.6 1524 1010.7 1506.3 1016 1488 1020.7 1469.5 1023.5 1416 1029.8 1386 1033.9 1374.3 1029.5 1366.1 1025 1355.5 1016 1344.6 1005.5 1345.1 1002.5 1346.4 1001 1354 998 1368 994.3 1386 991.4 1424 993.1 1498 993.9 1524 995.6 1560 992.3 1584.9 989ZM486 1095.3 492 1094.7 500 1095.1 512 1098.2 526 1103.2 554 1115.3 594 1136.3 616 1146.4 654 1161.6 696 1176.5 718 1181.6 742 1186.1 775.3 1196 805.6 1203.5 836 1209.5 862 1212.4 898 1214.5 972 1215.9 1000 1217.8 1030 1218.8 1056 1218.3 1078 1216 1094 1213 1112 1208.6 1192 1185.2 1248 1172.5 1288 1160.1 1316 1150.7 1340 1139.7 1352 1136 1356 1137.1 1360 1139.2 1365.2 1145 1368 1147.1 1382.5 1167.5 1383.1 1169 1380.8 1179.5 1376.9 1193 1372.7 1205 1367.7 1217 1343.2 1248.5 1318.6 1277 1304.7 1290.5 1287.7 1305.5 1248 1337.1 1202 1367.6 1176 1378.4 1152 1386.8 1130 1392.7 1110 1396.4 1082.4 1406 1053 1413.5 1010 1421.7 974 1427.1 948 1429.1 936 1429.3 924 1428.7 906 1426.4 886 1422.5 864 1416.8 834 1407.9 724 1364.2 696 1351.7 676 1339.2 656 1324 636 1307 585.8 1262 568 1247.3 554 1236.5 530 1220.3 506 1205.8 482 1193.1 460 1183.1 438 1174.7 418 1168.5 398 1163.6 380 1160.5 362 1158.9 344 1158.5 282 1160.8 282 1111.2 302 1107.4 321.7 1104.5 340 1102.6 356 1101.8 372 1101.9 388 1102.9 404 1104.9 420 1108 450 1107.5 466.2 1101.5 472.4 1100 480 1096.9ZM1662 1114.5 1662 1158.8 1630 1160.3 1560 1159.8 1524 1161.2 1498 1161 1478 1162.4 1446 1166.7 1444 1166.7 1442.6 1166 1445.4 1158.5 1449.6 1151 1454.5 1145 1461.6 1139 1470 1133.8 1480 1129.1 1490.1 1125.5 1502 1122.2 1524 1118.2 1538 1117.3 1562 1116.7 1624 1116.9 1642 1116.2Z"/>
<path fill="#ff3000" d="M1386 999.1 1416 1002.2 1458.9 1005.5 1466 1006.6 1471.4 1008.5 1450 1014.3 1428.9 1019 1406 1023.1 1386 1025.7 1374 1016.9 1362.8 1007 1366 1004.8 1370 1003.2ZM370 1110.5 394 1111.3 406 1112.7 420 1115.1 472 1117 476 1116.7 490 1112.5 504 1111 514 1110.9 526 1112.8 532 1114.4 546 1119.8 576 1132.1 609 1146.5 640 1158.9 668 1169.3 696 1178.8 716 1183.6 742 1188.6 782.3 1199 816.3 1206.5 844 1211.4 878 1215.5 922 1217.2 972 1217 1004 1219.8 1030 1220.9 1054 1220.4 1076 1218.1 1090 1215.6 1106 1211.9 1180 1190.5 1242 1175.6 1316 1153.9 1340 1145 1346 1145.4 1350 1146.4 1360.2 1152.5 1374.2 1173.5 1372.5 1181 1366.8 1197.5 1361.1 1211 1353.8 1226 1337.3 1247 1318 1269.6 1295 1292 1279.6 1305.5 1261.3 1320.5 1248 1330.9 1202 1361.8 1176 1372.1 1152 1380.1 1130 1385.9 1110 1390.1 1078 1400.5 1038.3 1410.5 1002 1417.5 972 1422 948 1424 928 1423.9 908 1421.7 888 1417.8 865.6 1412 834 1402.5 742 1364.5 716 1354.2 696 1345.2 676 1332.7 656 1317.8 638 1302.8 582.7 1254.5 564 1239.3 552 1230.4 526 1213 502 1198.6 478 1185.8 454 1174.8 434 1167 416 1161.1 398 1156.6 382 1153.7 368 1152.1 354 1151.2 338 1151.1 310 1151.7 282 1150.1 282 1124.3 310.7 1118 332 1114.1 352 1111.5ZM1562 1133 1648 1132.2 1652 1132.6 1656 1134 1658 1136.1 1659.2 1139 1659 1140.5 1657.9 1142 1654 1144.2 1646 1145.8 1632 1147 1558 1149.4 1524 1151.9 1498 1150.9 1496 1150.7 1494.1 1149.5 1508 1141.5 1524 1135.2Z"/>
<path fill="#ff2000" d="M1386 1006.8 1404.4 1010 1386 1012.7 1381.3 1008.5ZM380 1120.9 390 1120.4 398 1120.7 420 1123.6 454 1125 496 1129.1 500 1129 514 1125.7 528 1126.4 540 1128.2 560 1133.1 594 1144.8 664 1170.5 696 1181.1 706 1183.7 724 1187.8 758.1 1194.5 802 1204.3 828.7 1209.5 864 1214.8 904 1218.6 932 1219.5 972 1219.3 1004 1222 1030 1223 1054 1222.4 1076 1220 1090 1217.4 1106 1213.5 1180 1192.8 1234 1179.4 1330 1153.1 1336 1153 1342 1153.8 1352 1157.8 1361.4 1172 1365 1178 1365.1 1179.5 1363 1187 1355.6 1205 1349 1218.5 1340.7 1233.5 1330.3 1247 1313.5 1266.5 1301.9 1278.5 1289.2 1290.5 1257.1 1317.5 1245.5 1326.5 1202 1355.9 1174 1366.5 1150 1374.4 1130 1379.9 1110 1384.1 1084 1392.5 1056 1399.6 972.8 1416.5 950 1418.8 928 1418.8 910 1416.9 888 1412.7 866 1406.9 834 1397.2 742 1357.5 714 1346.8 696 1338.8 676 1326.6 654 1310.3 634 1293.9 584.9 1251.5 558 1229.9 528 1209.4 494 1188.6 476 1178.8 458 1169.9 438 1161 420 1153.8 394 1145.9 382 1143.2 366.4 1140.5 360 1137.8 352 1135.4 337.3 1133 337.2 1131.5 350 1127.7 366 1123.6Z"/>
<path fill="#ff1000" d="M452 1136 472 1137.4 504 1141.8 520 1143.1 524 1143 538 1140.1 552 1142.2 586 1149.6 620 1158.5 696 1183.3 726 1190.8 764 1198.5 844 1212.7 882 1217.7 918 1220.7 942 1221.7 972 1221.5 1004 1224.1 1028 1225.1 1050 1224.6 1074 1222.2 1090 1219.3 1102 1216.4 1134 1208 1188 1192.7 1292 1165.8 1320 1160.1 1332 1160.1 1336 1160.7 1344.2 1163 1355.8 1182.5 1356.2 1185.5 1352.8 1194.5 1346.6 1208 1333.4 1232 1324.6 1245.5 1307.9 1265 1285.2 1287.5 1258.9 1310 1246 1320 1202 1350 1174 1360.4 1148 1368.9 1128 1374.3 1110 1378.2 1086 1385.6 1060 1392.2 1014 1401.3 960 1410.5 940 1412.8 924 1412.8 906 1410.9 888 1407.5 866 1401.7 834 1391.8 742 1350.6 712 1339.9 696 1333.1 692 1330.8 672 1318.1 650 1301.5 558 1223.8 550 1217.9 524 1199.8 500 1184.2 476 1170 452 1157 443.1 1148 441.2 1145 441 1143.5 441.6 1142Z"/>
<path fill="#ff0000" d="M504 1155.2 508 1155.2 528 1157.9 538 1158.4 546 1158 558 1155.2 562 1154.9 584 1158.4 618 1164.7 646 1170.8 710 1189.5 760 1200.8 786 1205.6 820.6 1209.5 824 1210.5 829.9 1211 860 1216 884 1219 914 1221.7 948 1223.5 972 1223.8 1016 1227.1 1034 1227.5 1050 1227.1 1068 1225.5 1086 1222.4 1128 1211.9 1180 1196.9 1226 1184.8 1248 1178.4 1282 1170.4 1306 1167 1320 1165.8 1328 1166.3 1336 1168 1337.1 1169 1343.6 1181 1346.6 1187 1347.3 1190 1346.5 1193 1339.3 1208 1327.6 1229 1311.9 1253 1301.4 1265 1276.5 1289 1249.8 1311.5 1202 1344.2 1174 1354.4 1148 1362.7 1128 1368.2 1110 1372.2 1086 1379.4 1064 1384.8 1020 1393.1 956 1403 938 1404.8 922 1404.9 900 1402.8 875.9 1398.5 860 1394.4 834 1386.5 780 1360.6 742 1343.7 708 1332.4 696 1327.5 690 1324 666 1308.1 638 1286.3 618.1 1269.5 558 1215.6 516.1 1185.5 496.3 1170.5 494.7 1169 493.4 1166 495.8 1157 498 1156.1Z"/>
<path fill="#ef0000" d="M584 1169 612 1171.6 646 1177.1 676 1182.7 682 1183.9 718 1194.1 756 1203 780 1208 802 1211.7 820 1213.8 834 1214.6 868 1219.3 902 1222.8 940 1225.7 972 1227.1 994 1229.2 1014 1230.4 1034 1230.6 1052 1229.8 1070 1227.8 1086 1224.8 1130 1213.5 1248 1179.9 1272 1174.7 1316 1171.2 1320 1171.4 1328 1172.7 1329.1 1173.5 1337.5 1191.5 1338.4 1196 1326.6 1218.5 1306.3 1251.5 1300.7 1259 1293.9 1266.5 1278.3 1281.5 1248 1307.3 1202 1338.3 1172 1349 1146 1357.2 1128 1362 1110 1365.8 1084 1373.7 1058 1380 1026 1386 990 1391.3 950 1396 926 1396.8 908.8 1395.5 890 1392.5 870 1388.1 834 1379.1 814 1368.5 795.3 1359.5 742 1336.7 718 1329.8 696 1321.9 679.2 1311.5 660.5 1298 638 1279.5 606 1251.2 563.6 1212.5 547.8 1199 544.6 1193 540.5 1182.5 540.2 1176.5 542 1175.5 558 1175.6 570 1171.5Z"/>
<path fill="#df0000" d="M1302 1177.9 1318 1176.6 1320 1177.1 1321.1 1178 1329 1197.5 1329.6 1200.5 1318.8 1220 1305.1 1241 1295.6 1257.5 1288.1 1266.5 1278 1276.4 1248 1301.7 1202 1332.5 1176 1341.5 1152 1348.9 1130 1354.7 1110 1359 1084 1367.1 1058 1373.6 1030 1379.2 996 1384.7 960 1389.2 940 1390.6 920 1389.7 900 1386.6 880 1381.9 834 1369.4 816 1360.4 796 1351.3 742 1329.4 718 1323 696 1315.6 674 1300.9 648 1280.5 621.4 1257.5 586.4 1224.5 582.2 1220 577.9 1212.5 571.1 1194.5 572 1193.4 580 1189.2 584.6 1185.5 592 1183.6 610 1181.3 636 1182.4 696 1191.7 728 1199.9 770 1209.6 796 1214.7 824 1219.1 872 1225 916 1228.9 998 1233.3 1030 1233.8 1046 1233 1062 1231.5 1076 1229.3 1090 1226.3 1138 1213.6 1224 1188.8 1248 1181.4 1264 1178.4Z"/>
<path fill="#cf0000" d="M1250 1182.5 1278 1183.5 1308 1183.5 1310 1184.7 1316 1192.6 1318 1196.9 1320.7 1205 1316 1213.3 1306.8 1226 1299 1238 1283.6 1265 1268.4 1280 1248 1296.7 1228.7 1308.5 1202 1326.6 1174.7 1335.5 1138 1345.4 1110 1352.1 1090 1358.6 1072 1363.7 1045.6 1370 1020 1374.9 994 1379.1 966 1382.8 948 1384.3 932 1384.4 916 1382.7 900 1379.6 880 1374.2 834 1359.6 816 1351.1 797 1343 742 1322.2 718 1315.9 696 1308.7 676 1295.1 654.6 1278.5 614.7 1241 604.5 1227.5 597.2 1209.5 597.8 1208 602.5 1202 605.9 1196 608 1195.2 632 1192.3 658 1192.3 696 1197.2 784 1216.7 818 1222.8 850 1227.2 884 1230.8 934 1234.2 1002 1237.3 1036 1237.2 1052 1236.1 1066 1234.5 1080 1232 1096 1228.3 1130 1219.2 1172.1 1206.5 1202 1198.3Z"/>
<path fill="#bf0000" d="M1248 1186.8 1258 1188 1280 1189.1 1292 1190.4 1296.9 1194.5 1303.7 1202 1306 1205.1 1308.4 1211 1289.4 1239.5 1281.1 1254.5 1273.7 1269.5 1262.9 1280 1248 1292.3 1221.1 1307 1202 1318.9 1152 1333.6 1110 1344.7 1076 1355.1 1046 1362.3 1022 1367 995.4 1371.5 968 1375.4 950 1377 936 1377.3 922 1376.2 906 1373.4 890 1369.3 869.1 1362.5 834 1349.9 808 1338.5 778 1327.3 742 1315 718 1308.9 696 1301.9 681.9 1292 644.2 1257.5 632.4 1244 623.3 1223 626.7 1206.5 628 1205.2 642 1203.4 658 1202.1 686 1201.6 696 1202.7 798 1223.6 830 1228.7 856 1231.9 896 1235.7 938 1238.3 1010 1241.3 1044 1240.7 1072 1237.7 1086 1235.1 1102 1231.3 1130 1223.7 1202 1202.7Z"/>
<path fill="#af0000" d="M1248 1192.9 1266 1194.2 1277.3 1197.5 1286 1204.9 1292 1211.2 1292.8 1212.5 1293.4 1218.5 1284.7 1232 1276.8 1245.5 1262.4 1275.5 1248 1287.9 1202 1309.6 1147 1326.5 1076 1347.2 1046 1354.3 1014 1360.3 972 1366.3 948 1368.4 934 1368.3 922 1367.1 910 1364.9 895.5 1361 873.6 1353.5 808 1328.2 729.9 1304 696 1291.8 675.4 1274 659.1 1257.5 649.6 1236.5 647.8 1215.5 649.9 1214 660 1212.9 696 1210.6 710 1212.5 728 1213.8 742 1216.3 776 1223.7 802 1228.5 834 1233.4 864 1236.8 898 1239.7 934 1241.8 1008 1245 1038 1245 1054 1244 1070 1242.2 1086 1239.4 1102 1235.8 1140 1225.5Z"/>
<path fill="#9f0000" d="M1248 1198.9 1254 1199.9 1261.1 1203.5 1273 1212.5 1279.1 1218.5 1278.2 1226 1271.1 1238 1264 1251.5 1257.9 1265 1251.9 1280 1248 1283.5 1218 1295.1 1168 1310.8 1150 1316 1110 1326 1090 1331.9 1072 1336.4 1048 1341.3 1020 1345.7 958 1352.6 944 1353.7 932 1353.8 920 1352.8 906 1350.4 892 1346.9 874 1341.2 834 1326.2 818 1321 742 1300.5 727.7 1295 714.3 1289 696 1279.4 686.7 1271 675.2 1247 671.2 1233.5 668.8 1223 676 1221.8 696 1220.3 714 1224.3 730 1226.8 768 1230.6 796 1232.4 856 1240.4 898 1244.2 922 1245.5 972 1246.7 1010 1248.8 1040 1248.9 1058 1247.8 1072 1246.2 1088 1243.4 1102 1240.4 1138 1230.9 1202 1211.5Z"/>
<path fill="#8f0000" d="M1248 1211.2 1260 1219.6 1265.4 1224.5 1263.4 1232 1255.1 1248.5 1248 1265.1 1202 1279.6 1150.6 1299.5 1110 1313.1 1090 1317.9 1072 1321.1 1054 1323.2 1036 1324.3 1016 1324.2 972 1320.6 948 1322.7 930 1323.3 914 1322.8 896 1321 880 1318.4 862 1314.7 742 1285.3 730.3 1278.5 721.5 1272.5 719.8 1271 714.6 1263.5 709.1 1257.5 702.2 1251.5 696 1246.9 689.9 1232 690 1230.5 696 1229.9 742 1243.9 782 1248.1 808 1249.2 834 1249 972 1253.4 1020 1256.7 1056 1257.1 1084 1255 1112 1250.6 1146 1241.3 1202 1223.7Z"/>
<path fill="#800000" d="M1248 1227 1250.7 1229 1251.7 1230.5 1248 1239.1 1202 1252.8 1156 1269.6 1124 1279.9 1104 1285 1076 1289.3 1056 1290.6 1036 1290.6 1014 1289.6 972 1286.6 904 1289.3 884 1289.4 866 1288.7 834 1285.4 814 1277.3 807.5 1274 806.5 1272.5 806.5 1269.5 807.7 1268 812 1266 816 1265.4 834 1264.5 858 1266 886 1265.9 910 1264.5 928.9 1262 944 1261.4 972 1261.6 1015.5 1266.5 1032 1270.5 1050 1272.7 1068 1273.2 1084 1272.2 1108 1268.5 1134 1262.1 1162 1253.6 1202 1240.2Z"/>
</g>
<defs><clipPath id="clp"><rect x="282" y="77" width="1380" height="736.5"/></clipPath></defs>
<g id="cl" clip-path="url(#clp)"><path id="c1" d="M282 124.7 296 122.8 311 121.2 327 120.1 344 119.4 375 119.1 451 120.7 469 120.8 486 120.5 522 119.2 608 113.9 647 112.2 690 111.4 782 111.3 821 110.8 861 109.6 968 105.2 1001 104.4 1034 104.2 1073 104.5 1112 105.5 1152 107.3 1192 109.6 1231 112.5 1271 116 1304 119.3 1374 126.8 1391 128.2 1407 129 1425 129.2 1444 128.9 1515 125.3 1556 124.2 1605 124 1662 125" class="cd"/><path id="c2" d="M282 142 297 139.1 313 136.9 330 135.4 348 134.8 365 134.8 385 135.5 445 139.1 465 140.1 482 140.6 499 140.6 535 139.8 613 136.4 644 135.7 685 136 780 138 804 138.2 825 137.9 866 136.5 939 132.6 967 131.3 995 130.4 1024 130.1 1048 130.2 1073 130.6 1127 132.5 1182 135.3 1324 143.6 1357 145.1 1383 145.8 1405 145.7 1427 145 1449 143.7 1508 139.6 1528 138.6 1549 137.9 1574 137.4 1601 137.3 1630 137.6 1662 138.3" class="cd"/><path id="c3" d="M282 156 301 153.1 319 150.9 336 149.3 353 148.2 369 147.7 385 147.8 401 148.4 416 149.6 430 151.3 443 153.3 457 156.1 470 159.1 481 162.2 493 165.9 537 180.8 555 186.4 574 191.5 582 193.1 591 194.7 604 196.4 620 197.9 648 199.9 676 201.5 700 202.5 724 203.3 747 203.7 770 203.8 800 203.3 830 202.2 861 200.4 952 194.3 980 193 1008 192.4 1043 192.3 1082 193 1121 194.3 1196 197.3 1218 197.9 1242 198 1264 197.2 1279 196 1293 194.4 1306 192.3 1319 189.6 1330 186.8 1341 183.6 1385 169.1 1403 163.7 1413 161.2 1423 159.1 1433 157.4 1444 155.9 1455 154.8 1467 153.9 1494 152.8 1545 151.7 1662 150" class="cd"/><path id="c4" d="M282 172.9 311 168.8 335 166 356 164.3 376 163.6 395 163.9 405 164.5 414 165.3 431 167.6 448 171.1 463 175.3 478 180.5 493 186.9 507 193.9 518 200.3 529 207.4 566 233.9 580 243.3 595 252.1 611 260.3 624 266.3 641 273.7 674 287.1 706 298.9 737 309.2 753 314.1 769 318.6 785 322.7 801 326.5 817 330 832 332.9 848 335.7 864 338.2 882 340.6 900 342.6 938 346.1 961 347.6 986 348.9 1004 349.6 1019 349.8 1040 349.2 1050 348.4 1060 347.4 1069 346.1 1078 344.4 1087 342.4 1097 339.9 1111 335.8 1126 330.8 1182 310.9 1239 292.1 1251 287.8 1262 283.5 1276 277.6 1289 271.3 1302 264.3 1314 257 1323 250.9 1332 244.4 1361 221.5 1371 213.9 1382 206.2 1392 200 1403 194 1414 188.9 1426 184.2 1438 180.4 1452 177 1466 174.4 1482 172.5 1499 171.3 1516 170.6 1534 170.4 1595 171 1618 170.9 1641 170.2 1662 168.6" class="cd"/><path id="c5" d="M282 181.6 307 177.6 329 174.7 349 172.9 368 172.1 386 172.3 403 173.5 419 175.6 435 178.9 449 182.7 463 187.5 476 193 490 199.9 502 206.5 516 214.8 561 243.3 579 254.3 598 264.9 619 275.4 645 287.1 671 297.8 697 307.3 724 316.2 740 321 757 325.7 774 330 791 334 808 337.6 826 341.1 844 344.2 862 347.1 881 349.7 901 352.1 921 354.2 941 355.9 964 357.6 987 359 1005 359.7 1020 359.9 1041 359.3 1051 358.6 1060 357.7 1069 356.4 1078 354.9 1087 353 1097 350.6 1110 347 1124 342.7 1185 322.4 1241 305.6 1257 300.2 1272 294.5 1286 288.5 1299 282.2 1311 275.7 1323 268.3 1332 262.1 1342 254.8 1374 229.8 1386 220.7 1397 213 1407 206.6 1417 201.1 1427 196.4 1437 192.5 1448 189.1 1460 186.2 1473 183.9 1486 182.5 1501 181.5 1516 181.2 1532 181.3 1591 183.4 1615 183.7 1628 183.4 1640 182.8 1651 181.9 1662 180.6" class="cs"/><path id="c6" d="M282 195.9 306 192.1 327 189.3 347 187.5 365 186.8 382 187 399 188.1 415 190.3 431 193.5 445 197.4 459 202.2 472 207.7 485 214.2 497 220.9 510 228.7 554 257.2 571 267.8 588 277.4 605 285.9 629 296.5 658 308.1 686 318.1 714 327.2 731 332.2 749 337.1 766 341.4 784 345.6 802 349.4 820 352.9 839 356.3 858 359.3 878 362.1 898 364.6 918 366.7 939 368.6 962 370.4 985 371.7 1003 372.5 1019 372.8 1031 372.6 1043 372.2 1054 371.4 1064 370.3 1074 368.9 1084 367.2 1095 364.8 1106 362.1 1124 357.1 1145 350.4 1188 336.1 1253 314.9 1273 308.1 1289 302.3 1301 297.4 1312 292.4 1322 287.2 1331 281.7 1339 276.4 1348 269.9 1388 239.5 1398 232.6 1407 227 1416 222.1 1426 217.5 1436 213.8 1446 210.8 1459 207.8 1473 205.6 1489 204 1509 202.8 1537 201.6 1569 200.8 1662 200" class="cd"/><path id="c7" d="M282 226.4 293 224 304 221.9 315 220.2 325 218.9 336 217.8 346 217.2 356 216.8 366 216.8 376 217.2 386 217.8 396 218.9 405 220.2 415 221.9 424 223.9 433 226.1 442 228.8 454 232.8 466 237.4 477 242.2 489 248.1 500 253.9 513 261.3 562 290.5 582 301.9 593 307.8 605 313.8 618 319.9 631 325.7 652 334.5 675 343.5 701 353.1 742 367.7 761 374.2 777 379.2 792 383.5 805 386.8 817 389.3 829 391.2 842 392.7 855 393.8 877 394.6 923 395.1 944 395.7 970 397.1 1020 400.8 1034 401.4 1046 401.6 1063 401.2 1078 399.8 1094 397.4 1110 394 1127 389.5 1146 383.7 1167 376.5 1196 365.9 1221 356.4 1245 346.8 1267 337.7 1289 328.2 1310 318.6 1331 308.5 1402 272.3 1429 259.1 1442 253.3 1454 248.4 1465 244.5 1476 241.1 1489 237.7 1503 235 1517 233 1531 231.6 1544 230.9 1558 230.5 1607 230.5 1626 230.2 1645 229.2 1662 227.4" class="cd"/><path id="c8" d="M282 261.2 299 259.5 333 255.1 347 253.5 361 252.5 374 252.3 381 252.6 389 253.2 397 254.2 405 255.5 413 257.2 421 259.2 437 264 452 269.5 467 275.8 483 283.3 501 292.6 518 302 536 312.6 605 354.9 634 372 651 381.4 667 389.7 682 397 697 403.7 716 411.5 734 417.9 752 423.5 794 435.8 816 443 834 450 877 468.1 887 472 897 475.5 910 479.2 922 481.8 933 483.1 944 483.6 955 483.2 968 482.1 989 479.7 1009 476.9 1026 474.2 1042 471.3 1057 468.2 1072 464.6 1085 461.2 1098 457.4 1128 447.7 1164 434.9 1217 415 1237 406.9 1255 399.1 1271 391.5 1287 383.2 1304 373.6 1322 362.7 1340 351.2 1388 319.7 1403 310.3 1416 302.7 1431 294.4 1445 287.6 1458 282.2 1470 278 1484 274.2 1498 271.3 1514 268.8 1531 267 1546 265.8 1562 265.1 1632 263.1 1648 262.2 1662 261" class="cd"/><path id="c9" d="M282 329.6 296 327.3 309 325.4 322 323.9 335 322.8 347 322.1 359 321.8 371 321.9 383 322.4 395 323.3 406 324.5 418 326.2 429 328.3 440 330.8 451 333.7 462 337 472 340.4 483 344.7 493 349 503 353.7 513 358.8 523 364.4 533 370.4 543 376.9 552 383.2 568 395.3 584 408.7 599 422.3 636 457.1 647 466.9 656 474.5 666 482.2 676 489.2 685 494.6 695 499.8 708 505.5 725 512 775 529.6 837 552.4 856 558.9 873 564.1 885 567.4 897 570.4 908 572.7 919 574.6 929 575.9 940 576.9 951 577.4 963 577.6 984 577 1011 575.2 1055 571.8 1068 570.4 1080 568.8 1097 565.7 1113 561.6 1121 559.1 1128 556.5 1143 550.3 1153 545.5 1164 539.7 1175 533.5 1187 526.4 1206 514.5 1251 485.4 1303 452.8 1332 433.7 1397 388.7 1412 378.8 1426 370 1443 360 1459 351.5 1474 344.5 1488 338.9 1501 334.7 1514 331.4 1528 328.8 1542 327.2 1555 326.4 1569 326 1614 326.1 1631 325.9 1647 325.1 1662 323.5" class="cd"/><path id="c10" d="M282 527.9 295 524.5 307 521.9 320 519.5 332 517.7 345 516.2 357 515.3 369 514.8 381 514.8 393 515.3 405 516.3 417 517.7 428 519.4 440 521.8 451 524.5 463 527.9 474 531.4 485 535.5 495 539.6 506 544.5 516 549.4 526 554.7 536 560.5 546 566.7 555 572.7 583 592.9 606 609.2 614 615.2 621 620.8 627 625.9 634 632.4 664 662.3 670 667.7 676 672.7 682 677.2 689 681.9 696 685.9 703 689.4 712 693.3 721 696.5 730 699.4 756 706.9 764 709.6 772 712.7 781 716.6 791 721.4 827 740.1 841 747 856 753.3 863 755.8 870 758 880 760.5 890 762.6 901 764.4 914 766 931 767.5 948 768.5 964 769.2 979 769.3 991 769.1 1003 768.5 1014 767.6 1025 766.5 1036 764.9 1047 763.1 1058 760.9 1070 758.2 1082 755.1 1094 751.7 1118 743.9 1143 734.6 1170 723.3 1195 711.7 1219 699.8 1244 686.5 1268 672.9 1287 661.4 1306 649.5 1366 610 1387 596.5 1406 584.7 1423 574.8 1439 566.1 1455 558.1 1469 551.9 1484 545.9 1502 539.9 1521 534.5 1541 530 1562 526.3 1584 523.5 1607 521.4 1632 519.9 1662 518.8" class="cd"/></g>
<use xlink:href="#cl" href="#cl" transform="translate(0,879)"/>
<line x1="282" y1="813.2" x2="1662" y2="813.2" stroke="#262626" stroke-width="1" opacity="0.7"/>
<line x1="282" y1="1692.2" x2="1662" y2="1692.2" stroke="#262626" stroke-width="1" opacity="0.7"/>
<line x1="739" y1="71.4" x2="748" y2="71.4" stroke="#000" stroke-width="1.3"/>
<line x1="1303" y1="71.4" x2="1312" y2="71.4" stroke="#000" stroke-width="1.3"/>
<g shape-rendering="crispEdges">
<rect x="1685" y="801.99" width="45" height="11.81" fill="#00008f"/>
<rect x="1685" y="790.48" width="45" height="11.81" fill="#00009f"/>
<rect x="1685" y="778.98" width="45" height="11.81" fill="#0000af"/>
<rect x="1685" y="767.47" width="45" height="11.81" fill="#0000bf"/>
<rect x="1685" y="755.96" width="45" height="11.81" fill="#0000cf"/>
<rect x="1685" y="744.45" width="45" height="11.81" fill="#0000df"/>
<rect x="1685" y="732.95" width="45" height="11.81" fill="#0000ef"/>
<rect x="1685" y="721.44" width="45" height="11.81" fill="#0000ff"/>
<rect x="1685" y="709.93" width="45" height="11.81" fill="#0010ff"/>
<rect x="1685" y="698.42" width="45" height="11.81" fill="#0020ff"/>
<rect x="1685" y="686.91" width="45" height="11.81" fill="#0030ff"/>
<rect x="1685" y="675.41" width="45" height="11.81" fill="#0040ff"/>
<rect x="1685" y="663.90" width="45" height="11.81" fill="#0050ff"/>
<rect x="1685" y="652.39" width="45" height="11.81" fill="#0060ff"/>
<rect x="1685" y="640.88" width="45" height="11.81" fill="#0070ff"/>
<rect x="1685" y="629.38" width="45" height="11.81" fill="#0080ff"/>
<rect x="1685" y="617.87" width="45" height="11.81" fill="#008fff"/>
<rect x="1685" y="606.36" width="45" height="11.81" fill="#009fff"/>
<rect x="1685" y="594.85" width="45" height="11.81" fill="#00afff"/>
<rect x="1685" y="583.34" width="45" height="11.81" fill="#00bfff"/>
<rect x="1685" y="571.84" width="45" height="11.81" fill="#00cfff"/>
<rect x="1685" y="560.33" width="45" height="11.81" fill="#00dfff"/>
<rect x="1685" y="548.82" width="45" height="11.81" fill="#00efff"/>
<rect x="1685" y="537.31" width="45" height="11.81" fill="#00ffff"/>
<rect x="1685" y="525.80" width="45" height="11.81" fill="#10ffef"/>
<rect x="1685" y="514.30" width="45" height="11.81" fill="#20ffdf"/>
<rect x="1685" y="502.79" width="45" height="11.81" fill="#30ffcf"/>
<rect x="1685" y="491.28" width="45" height="11.81" fill="#40ffbf"/>
<rect x="1685" y="479.77" width="45" height="11.81" fill="#50ffaf"/>
<rect x="1685" y="468.27" width="45" height="11.81" fill="#60ff9f"/>
<rect x="1685" y="456.76" width="45" height="11.81" fill="#70ff8f"/>
<rect x="1685" y="445.25" width="45" height="11.81" fill="#80ff80"/>
<rect x="1685" y="433.74" width="45" height="11.81" fill="#8fff70"/>
<rect x="1685" y="422.23" width="45" height="11.81" fill="#9fff60"/>
<rect x="1685" y="410.73" width="45" height="11.81" fill="#afff50"/>
<rect x="1685" y="399.22" width="45" height="11.81" fill="#bfff40"/>
<rect x="1685" y="387.71" width="45" height="11.81" fill="#cfff30"/>
<rect x="1685" y="376.20" width="45" height="11.81" fill="#dfff20"/>
<rect x="1685" y="364.70" width="45" height="11.81" fill="#efff10"/>
<rect x="1685" y="353.19" width="45" height="11.81" fill="#ffff00"/>
<rect x="1685" y="341.68" width="45" height="11.81" fill="#ffef00"/>
<rect x="1685" y="330.17" width="45" height="11.81" fill="#ffdf00"/>
<rect x="1685" y="318.66" width="45" height="11.81" fill="#ffcf00"/>
<rect x="1685" y="307.16" width="45" height="11.81" fill="#ffbf00"/>
<rect x="1685" y="295.65" width="45" height="11.81" fill="#ffaf00"/>
<rect x="1685" y="284.14" width="45" height="11.81" fill="#ff9f00"/>
<rect x="1685" y="272.63" width="45" height="11.81" fill="#ff8f00"/>
<rect x="1685" y="261.12" width="45" height="11.81" fill="#ff8000"/>
<rect x="1685" y="249.62" width="45" height="11.81" fill="#ff7000"/>
<rect x="1685" y="238.11" width="45" height="11.81" fill="#ff6000"/>
<rect x="1685" y="226.60" width="45" height="11.81" fill="#ff5000"/>
<rect x="1685" y="215.09" width="45" height="11.81" fill="#ff4000"/>
<rect x="1685" y="203.59" width="45" height="11.81" fill="#ff3000"/>
<rect x="1685" y="192.08" width="45" height="11.81" fill="#ff2000"/>
<rect x="1685" y="180.57" width="45" height="11.81" fill="#ff1000"/>
<rect x="1685" y="169.06" width="45" height="11.81" fill="#ff0000"/>
<rect x="1685" y="157.55" width="45" height="11.81" fill="#ef0000"/>
<rect x="1685" y="146.05" width="45" height="11.81" fill="#df0000"/>
<rect x="1685" y="134.54" width="45" height="11.81" fill="#cf0000"/>
<rect x="1685" y="123.03" width="45" height="11.81" fill="#bf0000"/>
<rect x="1685" y="111.52" width="45" height="11.81" fill="#af0000"/>
<rect x="1685" y="100.02" width="45" height="11.81" fill="#9f0000"/>
<rect x="1685" y="88.51" width="45" height="11.81" fill="#8f0000"/>
<rect x="1685" y="77.00" width="45" height="11.51" fill="#800000"/>
</g>
<rect x="1684.8" y="77" width="45.5" height="736.5" fill="none" stroke="#262626" stroke-width="1.5"/>
<line x1="1723" y1="88.1" x2="1730" y2="88.1" stroke="#262626" stroke-width="1.5" opacity="0.75"/>
<text class="cb" x="1746" y="108.6">30</text>
<line x1="1723" y1="229.2" x2="1730" y2="229.2" stroke="#262626" stroke-width="1.5" opacity="0.75"/>
<text class="cb" x="1746" y="249.7">25</text>
<line x1="1723" y1="370.3" x2="1730" y2="370.3" stroke="#262626" stroke-width="1.5" opacity="0.75"/>
<text class="cb" x="1746" y="390.8">20</text>
<line x1="1723" y1="511.3" x2="1730" y2="511.3" stroke="#262626" stroke-width="1.5" opacity="0.75"/>
<text class="cb" x="1746" y="531.8">15</text>
<line x1="1723" y1="652.4" x2="1730" y2="652.4" stroke="#262626" stroke-width="1.5" opacity="0.75"/>
<text class="cb" x="1746" y="672.9">10</text>
<line x1="1723" y1="793.5" x2="1730" y2="793.5" stroke="#262626" stroke-width="1.5" opacity="0.75"/>
<text class="cb" x="1746" y="814.0">5</text>
<g shape-rendering="crispEdges">
<rect x="1685" y="1680.99" width="45" height="11.81" fill="#00008f"/>
<rect x="1685" y="1669.48" width="45" height="11.81" fill="#00009f"/>
<rect x="1685" y="1657.98" width="45" height="11.81" fill="#0000af"/>
<rect x="1685" y="1646.47" width="45" height="11.81" fill="#0000bf"/>
<rect x="1685" y="1634.96" width="45" height="11.81" fill="#0000cf"/>
<rect x="1685" y="1623.45" width="45" height="11.81" fill="#0000df"/>
<rect x="1685" y="1611.95" width="45" height="11.81" fill="#0000ef"/>
<rect x="1685" y="1600.44" width="45" height="11.81" fill="#0000ff"/>
<rect x="1685" y="1588.93" width="45" height="11.81" fill="#0010ff"/>
<rect x="1685" y="1577.42" width="45" height="11.81" fill="#0020ff"/>
<rect x="1685" y="1565.91" width="45" height="11.81" fill="#0030ff"/>
<rect x="1685" y="1554.41" width="45" height="11.81" fill="#0040ff"/>
<rect x="1685" y="1542.90" width="45" height="11.81" fill="#0050ff"/>
<rect x="1685" y="1531.39" width="45" height="11.81" fill="#0060ff"/>
<rect x="1685" y="1519.88" width="45" height="11.81" fill="#0070ff"/>
<rect x="1685" y="1508.38" width="45" height="11.81" fill="#0080ff"/>
<rect x="1685" y="1496.87" width="45" height="11.81" fill="#008fff"/>
<rect x="1685" y="1485.36" width="45" height="11.81" fill="#009fff"/>
<rect x="1685" y="1473.85" width="45" height="11.81" fill="#00afff"/>
<rect x="1685" y="1462.34" width="45" height="11.81" fill="#00bfff"/>
<rect x="1685" y="1450.84" width="45" height="11.81" fill="#00cfff"/>
<rect x="1685" y="1439.33" width="45" height="11.81" fill="#00dfff"/>
<rect x="1685" y="1427.82" width="45" height="11.81" fill="#00efff"/>
<rect x="1685" y="1416.31" width="45" height="11.81" fill="#00ffff"/>
<rect x="1685" y="1404.80" width="45" height="11.81" fill="#10ffef"/>
<rect x="1685" y="1393.30" width="45" height="11.81" fill="#20ffdf"/>
<rect x="1685" y="1381.79" width="45" height="11.81" fill="#30ffcf"/>
<rect x="1685" y="1370.28" width="45" height="11.81" fill="#40ffbf"/>
<rect x="1685" y="1358.77" width="45" height="11.81" fill="#50ffaf"/>
<rect x="1685" y="1347.27" width="45" height="11.81" fill="#60ff9f"/>
<rect x="1685" y="1335.76" width="45" height="11.81" fill="#70ff8f"/>
<rect x="1685" y="1324.25" width="45" height="11.81" fill="#80ff80"/>
<rect x="1685" y="1312.74" width="45" height="11.81" fill="#8fff70"/>
<rect x="1685" y="1301.23" width="45" height="11.81" fill="#9fff60"/>
<rect x="1685" y="1289.73" width="45" height="11.81" fill="#afff50"/>
<rect x="1685" y="1278.22" width="45" height="11.81" fill="#bfff40"/>
<rect x="1685" y="1266.71" width="45" height="11.81" fill="#cfff30"/>
<rect x="1685" y="1255.20" width="45" height="11.81" fill="#dfff20"/>
<rect x="1685" y="1243.70" width="45" height="11.81" fill="#efff10"/>
<rect x="1685" y="1232.19" width="45" height="11.81" fill="#ffff00"/>
<rect x="1685" y="1220.68" width="45" height="11.81" fill="#ffef00"/>
<rect x="1685" y="1209.17" width="45" height="11.81" fill="#ffdf00"/>
<rect x="1685" y="1197.66" width="45" height="11.81" fill="#ffcf00"/>
<rect x="1685" y="1186.16" width="45" height="11.81" fill="#ffbf00"/>
<rect x="1685" y="1174.65" width="45" height="11.81" fill="#ffaf00"/>
<rect x="1685" y="1163.14" width="45" height="11.81" fill="#ff9f00"/>
<rect x="1685" y="1151.63" width="45" height="11.81" fill="#ff8f00"/>
<rect x="1685" y="1140.12" width="45" height="11.81" fill="#ff8000"/>
<rect x="1685" y="1128.62" width="45" height="11.81" fill="#ff7000"/>
<rect x="1685" y="1117.11" width="45" height="11.81" fill="#ff6000"/>
<rect x="1685" y="1105.60" width="45" height="11.81" fill="#ff5000"/>
<rect x="1685" y="1094.09" width="45" height="11.81" fill="#ff4000"/>
<rect x="1685" y="1082.59" width="45" height="11.81" fill="#ff3000"/>
<rect x="1685" y="1071.08" width="45" height="11.81" fill="#ff2000"/>
<rect x="1685" y="1059.57" width="45" height="11.81" fill="#ff1000"/>
<rect x="1685" y="1048.06" width="45" height="11.81" fill="#ff0000"/>
<rect x="1685" y="1036.55" width="45" height="11.81" fill="#ef0000"/>
<rect x="1685" y="1025.05" width="45" height="11.81" fill="#df0000"/>
<rect x="1685" y="1013.54" width="45" height="11.81" fill="#cf0000"/>
<rect x="1685" y="1002.03" width="45" height="11.81" fill="#bf0000"/>
<rect x="1685" y="990.52" width="45" height="11.81" fill="#af0000"/>
<rect x="1685" y="979.02" width="45" height="11.81" fill="#9f0000"/>
<rect x="1685" y="967.51" width="45" height="11.81" fill="#8f0000"/>
<rect x="1685" y="956.00" width="45" height="11.51" fill="#800000"/>
</g>
<rect x="1684.8" y="956" width="45.5" height="736.5" fill="none" stroke="#262626" stroke-width="1.5"/>
<line x1="1723" y1="1109.1" x2="1730" y2="1109.1" stroke="#262626" stroke-width="1.5" opacity="0.75"/>
<text class="cb" x="1746" y="1129.6">36.5</text>
<line x1="1723" y1="1294.9" x2="1730" y2="1294.9" stroke="#262626" stroke-width="1.5" opacity="0.75"/>
<text class="cb" x="1746" y="1315.4">36</text>
<line x1="1723" y1="1480.7" x2="1730" y2="1480.7" stroke="#262626" stroke-width="1.5" opacity="0.75"/>
<text class="cb" x="1746" y="1501.2">35.5</text>
<line x1="1723" y1="1666.5" x2="1730" y2="1666.5" stroke="#262626" stroke-width="1.5" opacity="0.75"/>
<text class="cb" x="1746" y="1687.0">35</text>
<text class="tk" x="266" y="99.5" text-anchor="end">0</text>
<text class="tk" x="266" y="345.0" text-anchor="end">-200</text>
<text class="tk" x="266" y="590.5" text-anchor="end">-400</text>
<text class="tk" x="266" y="836.0" text-anchor="end">-600</text>
<text class="tk" x="420.0" y="892.5" text-anchor="middle">-200</text>
<text class="tk" x="696.0" y="892.5" text-anchor="middle">-100</text>
<text class="tk" x="972.0" y="892.5" text-anchor="middle">0</text>
<text class="tk" x="1248.0" y="892.5" text-anchor="middle">100</text>
<text class="tk" x="1524.0" y="892.5" text-anchor="middle">200</text>
<text class="lb" transform="translate(98,445.2) rotate(-90)" text-anchor="middle">depth (m)</text>
<text class="tk" x="266" y="978.5" text-anchor="end">0</text>
<text class="tk" x="266" y="1224.0" text-anchor="end">-200</text>
<text class="tk" x="266" y="1469.5" text-anchor="end">-400</text>
<text class="tk" x="266" y="1715.0" text-anchor="end">-600</text>
<text class="tk" x="420.0" y="1771.5" text-anchor="middle">-200</text>
<text class="tk" x="696.0" y="1771.5" text-anchor="middle">-100</text>
<text class="tk" x="972.0" y="1771.5" text-anchor="middle">0</text>
<text class="tk" x="1248.0" y="1771.5" text-anchor="middle">100</text>
<text class="tk" x="1524.0" y="1771.5" text-anchor="middle">200</text>
<text class="lb" transform="translate(98,1324.2) rotate(-90)" text-anchor="middle">depth (m)</text>
<text class="lb" x="972" y="1860.4" text-anchor="middle">radial distance (km)</text>
<text class="cb" transform="translate(1877.6,445.3) rotate(-90)" text-anchor="middle">[°C]</text>
<text class="cb" transform="translate(1931.1,1324.5) rotate(-90)" text-anchor="middle">[psu]</text>
<rect x="302.6" y="711.5" width="392.7" height="81.7" fill="#fff" stroke="#000" stroke-width="1.3"/>
<text class="bx" x="313.3" y="771">Temperature</text>
<rect x="302.6" y="1591.8" width="235.8" height="81.3" fill="#fff" stroke="#000" stroke-width="1.3"/>
<text class="bx" x="314" y="1652">Salinity</text>
</svg></body></html>
